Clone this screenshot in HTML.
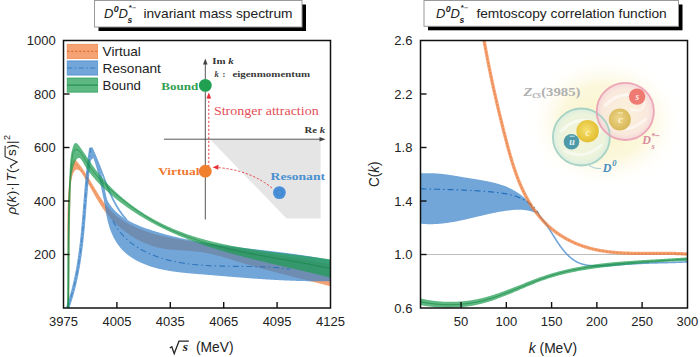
<!DOCTYPE html>
<html><head><meta charset="utf-8"><style>
html,body{margin:0;padding:0;background:#fff;width:700px;height:357px;overflow:hidden}
svg{display:block}
svg{font-family:"Liberation Sans",sans-serif;fill:#222}
.tk{font-size:13px}
.tx{font-size:13.8px}
.tl{font-size:13.5px}
.tt{font-size:13.5px}
.ti{font-size:13px;font-style:italic}
.tis{font-size:8.8px;font-style:italic;font-weight:bold}
.tib{font-size:8.5px;font-style:italic;font-weight:bold}
.tst{font-size:8px;font-weight:bold}
.sb{font-family:"Liberation Serif",serif;font-weight:bold}
.sbi{font-family:"Liberation Serif",serif;font-weight:bold;font-style:italic}
.si{font-family:"Liberation Serif",serif;font-style:italic}
.sr{font-family:"Liberation Serif",serif}
</style></head><body>
<svg width="700" height="357" viewBox="0 0 700 357">
<defs>
<clipPath id="clipL"><rect x="63.5" y="40.5" width="267" height="267.5"/></clipPath>
<clipPath id="clipR"><rect x="420.5" y="40.5" width="267" height="267.5"/></clipPath>
<radialGradient id="glow" cx="0.5" cy="0.5" r="0.5">
 <stop offset="0" stop-color="#FAF3C6" stop-opacity="1"/>
 <stop offset="0.55" stop-color="#FBF6D6" stop-opacity="0.85"/>
 <stop offset="1" stop-color="#FFFFFF" stop-opacity="0"/>
</radialGradient>
<radialGradient id="tealfill" cx="0.5" cy="0.5" r="0.5">
 <stop offset="0" stop-color="#F4F4D8"/>
 <stop offset="0.8" stop-color="#EAF3DC"/>
 <stop offset="1" stop-color="#D8ECE0"/>
</radialGradient>
<radialGradient id="pinkfill" cx="0.5" cy="0.5" r="0.5">
 <stop offset="0" stop-color="#FBF1DC"/>
 <stop offset="0.8" stop-color="#F9E6DE"/>
 <stop offset="1" stop-color="#F4D2D8"/>
</radialGradient>
<radialGradient id="cq" cx="0.45" cy="0.45" r="0.55">
 <stop offset="0" stop-color="#F6E070"/>
 <stop offset="1" stop-color="#E2BE30"/>
</radialGradient>
<radialGradient id="cbq" cx="0.45" cy="0.45" r="0.55">
 <stop offset="0" stop-color="#EED68A"/>
 <stop offset="1" stop-color="#D8B858"/>
</radialGradient>
</defs>
<rect x="98.5" y="4.5" width="207.5" height="26.5" fill="#000"/>
<rect x="94.5" y="0.5" width="207.5" height="26.5" fill="#fff" stroke="#9a9a9a" stroke-width="1"/>
<text x="104" y="17.6" class="ti">D</text>
<text x="113.8" y="12" class="tis">0</text>
<text x="118.4" y="17.6" class="ti">D</text>
<text x="127.6" y="22.5" class="tib">s</text>
<text x="128.8" y="10.2" class="tst">*</text>
<rect x="132.3" y="7.3" width="3.6" height="0.9" fill="#777"/>
<text x="143.4" y="17.6" class="tt" textLength="149.2" lengthAdjust="spacingAndGlyphs">invariant mass spectrum</text>
<rect x="428" y="4.5" width="254.5" height="25.8" fill="#000"/>
<rect x="424" y="0.5" width="254.5" height="25.8" fill="#fff" stroke="#9a9a9a" stroke-width="1"/>
<text x="436" y="17.6" class="ti">D</text>
<text x="445.8" y="12" class="tis">0</text>
<text x="450.4" y="17.6" class="ti">D</text>
<text x="459.6" y="22.5" class="tib">s</text>
<text x="460.8" y="10.2" class="tst">*</text>
<rect x="464.3" y="7.3" width="3.6" height="0.9" fill="#777"/>
<text x="476.4" y="17.6" class="tt" textLength="190.4" lengthAdjust="spacingAndGlyphs">femtoscopy correlation function</text>
<g clip-path="url(#clipL)">
<polygon points="210.3,139.5 320.6,139.5 320.6,218.5 286.5,218.5" fill="#E5E5E5"/>
<path d="M67.33,307.78 L67.37,307.08 L67.41,306.39 L67.45,305.69 L67.49,304.99 L67.53,304.30 L67.56,303.60 L67.60,302.90 L67.63,302.21 L67.66,301.51 L67.69,300.81 L67.72,300.11 L67.75,299.41 L67.78,298.71 L67.80,298.02 L67.83,297.32 L67.85,296.62 L67.87,295.92 L67.89,295.21 L67.91,294.51 L67.93,293.81 L67.95,293.11 L67.97,292.41 L67.98,291.71 L68.00,291.01 L68.01,290.30 L68.02,289.60 L68.04,288.90 L68.05,288.19 L68.06,287.49 L68.07,286.79 L68.07,286.08 L68.08,285.38 L68.09,284.68 L68.09,283.97 L68.10,283.27 L68.10,282.56 L68.11,281.86 L68.11,281.15 L68.11,280.44 L68.11,279.74 L68.11,279.03 L68.11,278.33 L68.11,277.62 L68.11,276.91 L68.11,276.21 L68.11,275.50 L68.10,274.79 L68.10,274.08 L68.09,273.38 L68.09,272.67 L68.08,271.96 L68.08,271.25 L68.07,270.55 L68.06,269.84 L68.06,269.13 L68.05,268.42 L68.04,267.71 L68.03,267.00 L68.02,266.29 L68.01,265.58 L68.00,264.87 L67.99,264.17 L67.98,263.46 L67.97,262.75 L67.96,262.04 L67.95,261.33 L67.94,260.62 L67.93,259.91 L67.91,259.20 L67.90,258.49 L67.89,257.78 L67.88,257.07 L67.86,256.36 L67.85,255.65 L67.84,254.93 L67.82,254.22 L67.81,253.51 L67.80,252.80 L67.79,252.09 L67.77,251.38 L67.76,250.67 L67.75,249.96 L67.73,249.25 L67.72,248.54 L67.71,247.83 L67.69,247.12 L67.68,246.40 L67.67,245.69 L67.66,244.98 L67.64,244.27 L67.63,243.56 L67.62,242.85 L67.61,242.14 L67.60,241.43 L67.59,240.72 L67.58,240.01 L67.56,239.29 L67.55,238.58 L67.54,237.87 L67.53,237.16 L67.53,236.45 L67.52,235.74 L67.51,235.03 L67.50,234.32 L67.49,233.61 L67.48,232.90 L67.48,232.19 L67.47,231.48 L67.47,230.77 L67.46,230.06 L67.46,229.35 L67.45,228.64 L67.45,227.93 L67.44,227.22 L67.44,226.51 L67.44,225.80 L67.44,225.09 L67.44,224.38 L67.44,223.67 L67.44,222.96 L67.44,222.25 L67.44,221.54 L67.45,220.83 L67.45,220.12 L67.45,219.41 L67.46,218.70 L67.47,217.99 L67.47,217.29 L67.48,216.58 L67.49,215.87 L67.50,215.16 L67.51,214.45 L67.52,213.75 L67.53,213.04 L67.55,212.33 L67.56,211.63 L67.58,210.92 L67.59,210.21 L67.61,209.51 L67.63,208.80 L67.65,208.09 L67.67,207.39 L67.69,206.68 L67.71,205.98 L67.74,205.27 L67.76,204.56 L67.79,203.86 L67.81,203.16 L67.84,202.45 L67.87,201.75 L67.90,201.04 L67.94,200.34 L67.97,199.64 L68.00,198.93 L68.04,198.23 L68.08,197.53 L68.12,196.82 L68.16,196.12 L68.20,195.42 L68.24,194.72 L68.29,194.02 L68.33,193.32 L68.38,192.61 L68.43,191.91 L68.48,191.21 L68.53,190.51 L68.58,189.81 L68.64,189.11 L68.69,188.42 L68.75,187.72 L68.81,187.02 L68.87,186.32 L68.94,185.62 L69.00,184.93 L69.07,184.23 L69.13,183.53 L69.20,182.83 L69.28,182.14 L69.35,181.44 L69.42,180.75 L69.50,180.05 L69.58,179.36 L69.66,178.66 L69.74,177.97 L69.82,177.28 L69.91,176.58 L70.00,175.89 L70.09,175.20 L70.18,174.50 L70.27,173.81 L70.36,173.12 L70.46,172.43 L70.56,171.74 L70.66,171.05 L70.77,170.36 L70.88,169.68 L71.00,168.99 L71.12,168.31 L71.25,167.63 L71.40,166.96 L71.55,166.29 L71.72,165.63 L71.90,164.98 L72.10,164.33 L72.31,163.69 L72.54,163.06 L72.79,162.43 L73.06,161.82 L73.36,161.22 L73.67,160.62 L74.01,160.04 L74.37,159.47 L74.76,158.92 L75.44,159.66 L75.90,160.18 L76.37,160.71 L76.82,161.24 L77.28,161.77 L77.73,162.31 L78.17,162.85 L78.61,163.39 L79.05,163.94 L79.48,164.49 L79.91,165.04 L80.33,165.60 L80.76,166.16 L81.17,166.72 L81.59,167.28 L82.00,167.85 L82.40,168.42 L82.81,169.00 L83.21,169.57 L83.61,170.15 L84.00,170.73 L84.40,171.31 L84.79,171.90 L85.17,172.48 L85.56,173.07 L85.94,173.66 L86.33,174.25 L86.70,174.85 L87.08,175.44 L87.46,176.04 L87.83,176.64 L88.20,177.24 L88.57,177.84 L88.94,178.44 L89.31,179.04 L89.68,179.65 L90.04,180.25 L90.41,180.86 L90.77,181.47 L91.14,182.07 L91.50,182.68 L91.86,183.29 L92.23,183.90 L92.59,184.51 L92.95,185.12 L93.31,185.73 L93.67,186.34 L94.04,186.95 L94.40,187.56 L94.76,188.17 L95.12,188.78 L95.49,189.39 L95.85,190.00 L96.22,190.61 L96.59,191.22 L96.95,191.83 L97.32,192.43 L97.69,193.04 L98.06,193.64 L98.44,194.25 L98.81,194.85 L99.19,195.45 L99.57,196.05 L99.95,196.64 L100.33,197.24 L100.72,197.83 L101.11,198.42 L101.50,199.01 L101.89,199.60 L102.29,200.18 L102.69,200.76 L103.09,201.33 L103.50,201.91 L103.91,202.47 L104.32,203.04 L104.74,203.60 L105.16,204.16 L105.59,204.71 L106.02,205.26 L106.45,205.81 L106.89,206.35 L107.33,206.88 L107.78,207.41 L108.23,207.94 L108.69,208.46 L109.15,208.97 L109.62,209.48 L110.09,209.98 L110.57,210.48 L111.05,210.97 L111.54,211.46 L112.04,211.94 L112.54,212.41 L113.04,212.87 L113.55,213.34 L114.07,213.79 L114.59,214.24 L115.11,214.68 L115.64,215.12 L116.17,215.56 L116.71,215.98 L117.25,216.41 L117.80,216.82 L118.34,217.24 L118.89,217.64 L119.45,218.05 L120.00,218.44 L120.56,218.84 L121.13,219.22 L121.69,219.61 L122.26,219.99 L122.83,220.36 L123.41,220.73 L123.99,221.09 L124.57,221.45 L125.15,221.81 L125.74,222.16 L126.32,222.50 L126.92,222.85 L127.51,223.18 L128.11,223.52 L128.71,223.85 L129.31,224.17 L129.91,224.49 L130.52,224.81 L131.13,225.12 L131.74,225.43 L132.36,225.73 L132.98,226.03 L133.60,226.33 L134.22,226.62 L134.84,226.91 L135.47,227.19 L136.10,227.48 L136.73,227.75 L137.36,228.03 L138.00,228.30 L138.64,228.56 L139.28,228.82 L139.92,229.08 L140.56,229.34 L141.21,229.59 L141.86,229.84 L142.51,230.08 L143.16,230.33 L143.82,230.56 L144.47,230.80 L145.13,231.03 L145.79,231.26 L146.45,231.49 L147.11,231.71 L147.78,231.93 L148.44,232.15 L149.11,232.36 L149.78,232.57 L150.45,232.78 L151.13,232.98 L151.80,233.18 L152.48,233.38 L153.16,233.58 L153.84,233.77 L154.52,233.97 L155.20,234.16 L155.88,234.34 L156.57,234.53 L157.25,234.71 L157.94,234.89 L158.63,235.06 L159.32,235.24 L160.01,235.41 L160.70,235.58 L161.39,235.74 L162.09,235.91 L162.78,236.07 L163.48,236.23 L164.18,236.39 L164.88,236.55 L165.58,236.70 L166.28,236.86 L166.98,237.01 L167.68,237.16 L168.38,237.30 L169.08,237.45 L169.79,237.59 L170.49,237.73 L171.20,237.87 L171.91,238.01 L172.61,238.15 L173.32,238.28 L174.03,238.42 L174.74,238.55 L175.45,238.68 L176.16,238.81 L176.87,238.94 L177.58,239.07 L178.29,239.19 L179.00,239.32 L179.71,239.44 L180.42,239.56 L181.14,239.69 L181.85,239.81 L182.56,239.93 L183.28,240.04 L183.99,240.16 L184.70,240.28 L185.42,240.39 L186.13,240.51 L186.84,240.62 L187.56,240.74 L188.27,240.85 L188.98,240.96 L189.70,241.07 L190.41,241.18 L191.12,241.29 L191.83,241.40 L192.55,241.51 L193.26,241.62 L193.97,241.73 L194.68,241.84 L195.39,241.95 L196.11,242.06 L196.82,242.16 L197.53,242.27 L198.24,242.38 L198.95,242.49 L199.65,242.60 L200.36,242.70 L201.07,242.81 L201.78,242.92 L202.48,243.03 L203.19,243.13 L203.90,243.24 L204.60,243.35 L205.30,243.46 L206.01,243.57 L206.71,243.67 L207.41,243.78 L208.12,243.89 L208.82,244.00 L209.52,244.11 L210.22,244.22 L210.92,244.32 L211.62,244.43 L212.32,244.54 L213.02,244.65 L213.72,244.76 L214.41,244.87 L215.11,244.98 L215.81,245.09 L216.50,245.19 L217.20,245.30 L217.90,245.41 L218.59,245.52 L219.29,245.63 L219.98,245.74 L220.68,245.85 L221.37,245.96 L222.06,246.07 L222.75,246.18 L223.45,246.29 L224.14,246.40 L224.83,246.51 L225.52,246.62 L226.21,246.73 L226.90,246.84 L227.60,246.95 L228.29,247.06 L228.98,247.17 L229.66,247.28 L230.35,247.39 L231.04,247.50 L231.73,247.61 L232.42,247.72 L233.11,247.83 L233.80,247.94 L234.48,248.05 L235.17,248.16 L235.86,248.27 L236.54,248.39 L237.23,248.50 L237.92,248.61 L238.60,248.72 L239.29,248.83 L239.97,248.94 L240.66,249.05 L241.35,249.16 L242.03,249.27 L242.72,249.39 L243.40,249.50 L244.09,249.61 L244.77,249.72 L245.45,249.83 L246.14,249.94 L246.82,250.06 L247.51,250.17 L248.19,250.28 L248.87,250.39 L249.56,250.50 L250.24,250.62 L250.92,250.73 L251.61,250.84 L252.29,250.95 L252.97,251.06 L253.66,251.18 L254.34,251.29 L255.02,251.40 L255.70,251.51 L256.39,251.63 L257.07,251.74 L257.75,251.85 L258.44,251.96 L259.12,252.08 L259.80,252.19 L260.48,252.30 L261.17,252.42 L261.85,252.53 L262.53,252.64 L263.21,252.76 L263.90,252.87 L264.58,252.98 L265.26,253.09 L265.95,253.21 L266.63,253.32 L267.31,253.43 L267.99,253.55 L268.68,253.66 L269.36,253.78 L270.04,253.89 L270.73,254.00 L271.41,254.12 L272.09,254.23 L272.78,254.34 L273.46,254.46 L274.15,254.57 L274.83,254.69 L275.51,254.80 L276.20,254.91 L276.88,255.03 L277.57,255.14 L278.25,255.26 L278.94,255.37 L279.62,255.48 L280.31,255.60 L281.00,255.71 L281.68,255.83 L282.37,255.94 L283.05,256.06 L283.74,256.17 L284.43,256.29 L285.11,256.40 L285.80,256.52 L286.49,256.63 L287.18,256.75 L287.86,256.86 L288.55,256.98 L289.24,257.09 L289.93,257.21 L290.62,257.32 L291.31,257.44 L292.00,257.55 L292.69,257.67 L293.38,257.78 L294.07,257.90 L294.76,258.01 L295.45,258.13 L296.14,258.24 L296.84,258.36 L297.53,258.47 L298.22,258.59 L298.92,258.70 L299.61,258.82 L300.30,258.94 L301.00,259.05 L301.69,259.17 L302.39,259.28 L303.08,259.40 L303.78,259.51 L304.48,259.63 L305.17,259.75 L305.87,259.86 L306.57,259.98 L307.27,260.10 L307.97,260.21 L308.66,260.33 L309.36,260.44 L310.06,260.56 L310.77,260.68 L311.47,260.79 L312.17,260.91 L312.87,261.03 L313.57,261.14 L314.28,261.26 L314.98,261.38 L315.68,261.49 L316.39,261.61 L317.09,261.73 L317.80,261.84 L318.51,261.96 L319.21,262.08 L319.92,262.19 L320.63,262.31 L321.34,262.43 L322.05,262.54 L322.76,262.66 L323.47,262.78 L324.18,262.89 L324.89,263.01 L325.60,263.13 L326.32,263.25 L327.03,263.36 L327.75,263.48 L328.46,263.60 L329.18,263.71 L329.89,263.83 L330.61,263.95 L330.50,286.29 L329.82,286.11 L329.15,285.93 L328.47,285.76 L327.79,285.58 L327.11,285.40 L326.43,285.23 L325.75,285.05 L325.07,284.88 L324.40,284.71 L323.72,284.53 L323.04,284.36 L322.36,284.18 L321.68,284.01 L321.00,283.84 L320.32,283.67 L319.64,283.49 L318.96,283.32 L318.28,283.15 L317.60,282.98 L316.92,282.80 L316.24,282.63 L315.56,282.46 L314.88,282.29 L314.20,282.12 L313.52,281.95 L312.84,281.78 L312.16,281.61 L311.48,281.44 L310.80,281.27 L310.12,281.10 L309.44,280.93 L308.76,280.76 L308.08,280.59 L307.40,280.42 L306.72,280.25 L306.04,280.08 L305.36,279.91 L304.68,279.74 L304.00,279.57 L303.32,279.40 L302.64,279.23 L301.96,279.06 L301.28,278.89 L300.60,278.72 L299.92,278.55 L299.24,278.38 L298.56,278.21 L297.88,278.04 L297.20,277.87 L296.52,277.70 L295.84,277.53 L295.16,277.36 L294.48,277.19 L293.80,277.01 L293.12,276.84 L292.44,276.67 L291.76,276.50 L291.08,276.33 L290.40,276.16 L289.72,275.99 L289.04,275.82 L288.36,275.64 L287.68,275.47 L287.00,275.30 L286.32,275.13 L285.64,274.96 L284.96,274.78 L284.28,274.61 L283.60,274.44 L282.92,274.26 L282.24,274.09 L281.56,273.91 L280.88,273.74 L280.20,273.56 L279.52,273.39 L278.84,273.21 L278.16,273.04 L277.48,272.86 L276.81,272.69 L276.13,272.51 L275.45,272.33 L274.77,272.15 L274.09,271.98 L273.41,271.80 L272.73,271.62 L272.06,271.44 L271.38,271.26 L270.70,271.08 L270.02,270.90 L269.35,270.72 L268.67,270.54 L267.99,270.36 L267.31,270.18 L266.64,269.99 L265.96,269.81 L265.28,269.63 L264.60,269.44 L263.93,269.26 L263.25,269.07 L262.58,268.89 L261.90,268.70 L261.22,268.52 L260.55,268.33 L259.87,268.14 L259.20,267.95 L258.52,267.76 L257.84,267.57 L257.17,267.38 L256.49,267.19 L255.82,267.00 L255.14,266.81 L254.47,266.62 L253.80,266.42 L253.12,266.23 L252.45,266.04 L251.77,265.84 L251.10,265.64 L250.43,265.45 L249.75,265.25 L249.08,265.05 L248.41,264.85 L247.73,264.66 L247.06,264.45 L246.39,264.25 L245.72,264.05 L245.05,263.85 L244.37,263.65 L243.70,263.44 L243.03,263.24 L242.36,263.03 L241.69,262.83 L241.02,262.62 L240.35,262.41 L239.68,262.20 L239.01,262.00 L238.34,261.79 L237.67,261.58 L237.00,261.37 L236.33,261.16 L235.66,260.95 L234.99,260.74 L234.32,260.53 L233.65,260.32 L232.98,260.11 L232.31,259.90 L231.64,259.69 L230.97,259.49 L230.30,259.28 L229.63,259.07 L228.96,258.87 L228.29,258.66 L227.62,258.46 L226.95,258.25 L226.27,258.05 L225.60,257.85 L224.93,257.65 L224.26,257.45 L223.59,257.26 L222.92,257.06 L222.24,256.87 L221.57,256.68 L220.90,256.49 L220.22,256.30 L219.55,256.11 L218.87,255.93 L218.20,255.74 L217.52,255.56 L216.85,255.39 L216.17,255.21 L215.49,255.04 L214.81,254.87 L214.14,254.70 L213.46,254.53 L212.78,254.37 L212.10,254.21 L211.42,254.05 L210.74,253.90 L210.05,253.75 L209.37,253.60 L208.69,253.46 L208.00,253.32 L207.32,253.18 L206.63,253.05 L205.95,252.91 L205.26,252.79 L204.57,252.66 L203.88,252.55 L203.19,252.43 L202.50,252.32 L201.81,252.21 L201.12,252.11 L200.42,252.01 L199.73,251.91 L199.03,251.82 L198.34,251.74 L197.64,251.65 L196.94,251.58 L196.24,251.50 L195.55,251.43 L194.85,251.36 L194.14,251.29 L193.44,251.23 L192.74,251.17 L192.04,251.11 L191.34,251.06 L190.63,251.01 L189.93,250.95 L189.22,250.90 L188.52,250.86 L187.81,250.81 L187.11,250.76 L186.40,250.72 L185.70,250.67 L184.99,250.63 L184.29,250.59 L183.58,250.55 L182.88,250.50 L182.17,250.46 L181.46,250.42 L180.76,250.37 L180.05,250.33 L179.35,250.29 L178.64,250.24 L177.94,250.19 L177.23,250.14 L176.53,250.09 L175.83,250.04 L175.12,249.99 L174.42,249.93 L173.72,249.87 L173.02,249.81 L172.32,249.75 L171.61,249.68 L170.91,249.61 L170.22,249.54 L169.52,249.47 L168.82,249.39 L168.12,249.30 L167.43,249.22 L166.73,249.12 L166.04,249.03 L165.35,248.93 L164.65,248.82 L163.96,248.72 L163.27,248.60 L162.59,248.48 L161.90,248.36 L161.21,248.22 L160.53,248.09 L159.85,247.95 L159.16,247.80 L158.48,247.64 L157.80,247.48 L157.13,247.31 L156.45,247.14 L155.78,246.96 L155.10,246.78 L154.43,246.59 L153.76,246.39 L153.09,246.19 L152.43,245.98 L151.76,245.76 L151.10,245.54 L150.44,245.32 L149.78,245.08 L149.12,244.85 L148.46,244.60 L147.81,244.36 L147.16,244.10 L146.51,243.84 L145.86,243.58 L145.21,243.31 L144.57,243.03 L143.93,242.75 L143.29,242.47 L142.65,242.18 L142.01,241.88 L141.38,241.58 L140.75,241.28 L140.12,240.96 L139.49,240.65 L138.87,240.33 L138.25,240.00 L137.63,239.67 L137.01,239.34 L136.39,239.00 L135.78,238.65 L135.17,238.30 L134.56,237.95 L133.96,237.59 L133.35,237.22 L132.75,236.86 L132.16,236.48 L131.56,236.11 L130.97,235.73 L130.38,235.34 L129.79,234.95 L129.21,234.56 L128.63,234.16 L128.05,233.76 L127.47,233.35 L126.90,232.94 L126.33,232.52 L125.76,232.11 L125.20,231.68 L124.64,231.26 L124.08,230.83 L123.53,230.39 L122.98,229.95 L122.43,229.51 L121.88,229.07 L121.34,228.62 L120.80,228.17 L120.26,227.71 L119.73,227.25 L119.20,226.79 L118.68,226.32 L118.15,225.85 L117.63,225.38 L117.12,224.90 L116.61,224.42 L116.10,223.94 L115.59,223.45 L115.09,222.96 L114.59,222.47 L114.10,221.97 L113.60,221.47 L113.12,220.97 L112.63,220.46 L112.15,219.96 L111.68,219.45 L111.20,218.93 L110.73,218.42 L110.27,217.90 L109.81,217.38 L109.35,216.85 L108.90,216.32 L108.45,215.80 L108.00,215.26 L107.56,214.73 L107.12,214.19 L106.69,213.65 L106.26,213.11 L105.83,212.57 L105.41,212.02 L105.00,211.47 L104.58,210.92 L104.17,210.37 L103.77,209.81 L103.37,209.26 L102.97,208.70 L102.58,208.14 L102.19,207.57 L101.81,207.01 L101.43,206.44 L101.05,205.87 L100.67,205.30 L100.30,204.73 L99.93,204.15 L99.57,203.57 L99.20,202.99 L98.84,202.41 L98.48,201.83 L98.13,201.24 L97.77,200.65 L97.42,200.06 L97.07,199.47 L96.71,198.87 L96.36,198.27 L96.02,197.68 L95.67,197.07 L95.32,196.47 L94.97,195.86 L94.63,195.26 L94.28,194.65 L93.93,194.03 L93.58,193.42 L93.24,192.80 L92.89,192.18 L92.54,191.56 L92.19,190.94 L91.84,190.31 L91.49,189.68 L91.14,189.05 L90.78,188.42 L90.42,187.78 L90.07,187.14 L89.71,186.50 L89.34,185.86 L88.98,185.22 L88.61,184.57 L88.24,183.92 L87.87,183.27 L87.49,182.62 L87.11,181.96 L86.73,181.30 L86.34,180.64 L85.95,179.98 L85.55,179.31 L85.16,178.64 L84.75,177.97 L84.35,177.30 L83.93,176.62 L83.52,175.95 L83.10,175.29 L82.68,174.64 L82.26,174.01 L81.83,173.41 L81.41,172.83 L80.99,172.28 L80.56,171.78 L80.14,171.31 L79.72,170.90 L79.31,170.54 L78.90,170.23 L78.49,169.97 L78.09,169.77 L77.69,169.63 L77.30,169.55 L76.92,169.52 L76.55,169.55 L76.19,169.65 L75.83,169.80 L75.49,170.02 L75.16,170.30 L74.84,170.64 L74.54,171.03 L74.24,171.47 L73.96,171.95 L73.70,172.46 L73.44,172.99 L73.20,173.55 L72.98,174.12 L72.77,174.71 L72.57,175.31 L72.38,175.92 L72.21,176.55 L72.04,177.19 L71.89,177.84 L71.75,178.50 L71.62,179.17 L71.50,179.85 L71.39,180.54 L71.29,181.24 L71.19,181.94 L71.11,182.66 L71.03,183.38 L70.96,184.10 L70.90,184.83 L70.84,185.57 L70.78,186.31 L70.74,187.06 L70.70,187.81 L70.66,188.57 L70.62,189.32 L70.59,190.08 L70.56,190.84 L70.54,191.60 L70.52,192.36 L70.50,193.12 L70.47,193.88 L70.46,194.64 L70.44,195.39 L70.42,196.15 L70.40,196.90 L70.38,197.65 L70.36,198.40 L70.34,199.15 L70.32,199.89 L70.30,200.64 L70.29,201.38 L70.27,202.12 L70.25,202.86 L70.23,203.60 L70.22,204.33 L70.20,205.06 L70.18,205.80 L70.16,206.53 L70.15,207.25 L70.13,207.98 L70.11,208.71 L70.10,209.43 L70.08,210.15 L70.07,210.88 L70.05,211.60 L70.03,212.31 L70.02,213.03 L70.00,213.75 L69.99,214.46 L69.97,215.17 L69.96,215.89 L69.94,216.60 L69.93,217.31 L69.91,218.01 L69.90,218.72 L69.89,219.43 L69.87,220.13 L69.86,220.84 L69.84,221.54 L69.83,222.24 L69.82,222.94 L69.80,223.64 L69.79,224.34 L69.78,225.03 L69.76,225.73 L69.75,226.43 L69.74,227.12 L69.73,227.81 L69.71,228.51 L69.70,229.20 L69.69,229.89 L69.68,230.58 L69.67,231.27 L69.65,231.96 L69.64,232.65 L69.63,233.34 L69.62,234.02 L69.61,234.71 L69.60,235.39 L69.59,236.08 L69.58,236.76 L69.57,237.45 L69.55,238.13 L69.54,238.81 L69.53,239.50 L69.52,240.18 L69.51,240.86 L69.50,241.54 L69.49,242.22 L69.48,242.90 L69.47,243.58 L69.46,244.26 L69.46,244.94 L69.45,245.62 L69.44,246.30 L69.43,246.98 L69.42,247.65 L69.41,248.33 L69.40,249.01 L69.39,249.69 L69.38,250.37 L69.38,251.04 L69.37,251.72 L69.36,252.40 L69.35,253.08 L69.34,253.76 L69.34,254.43 L69.33,255.11 L69.32,255.79 L69.31,256.47 L69.31,257.15 L69.30,257.82 L69.29,258.50 L69.28,259.18 L69.28,259.86 L69.27,260.54 L69.26,261.22 L69.26,261.90 L69.25,262.58 L69.24,263.26 L69.24,263.94 L69.23,264.62 L69.23,265.30 L69.22,265.98 L69.21,266.67 L69.21,267.35 L69.20,268.03 L69.20,268.72 L69.19,269.40 L69.19,270.09 L69.18,270.77 L69.17,271.46 L69.17,272.15 L69.16,272.83 L69.16,273.52 L69.15,274.21 L69.15,274.90 L69.14,275.59 L69.14,276.28 L69.14,276.97 L69.13,277.67 L69.13,278.36 L69.12,279.06 L69.12,279.75 L69.11,280.45 L69.11,281.15 L69.10,281.84 L69.10,282.54 L69.10,283.24 L69.09,283.95 L69.09,284.65 L69.09,285.35 L69.08,286.06 L69.08,286.76 L69.07,287.47 L69.07,288.18 L69.07,288.89 L69.06,289.60 L69.06,290.31 L69.06,291.03 L69.06,291.74 L69.05,292.46 L69.05,293.17 L69.05,293.89 L69.04,294.61 L69.04,295.33 L69.04,296.06 L69.04,296.78 L69.03,297.51 L69.03,298.23 L69.03,298.96 L69.03,299.69 L69.02,300.43 L69.02,301.16 L69.02,301.90 L69.02,302.63 L69.01,303.37 L69.01,304.11 L69.01,304.85 L69.01,305.60 L69.01,306.34 L69.01,307.09 L69.00,307.84 Z" fill="#F07832" fill-opacity="0.68"/>
<path d="M75.97,164.04 L76.42,164.59 L76.87,165.13 L77.32,165.68 L77.77,166.23 L78.21,166.79 L78.65,167.34 L79.08,167.90 L79.51,168.46 L79.94,169.03 L80.37,169.59 L80.80,170.16 L81.22,170.73 L81.64,171.30 L82.05,171.88 L82.47,172.46 L82.88,173.03 L83.29,173.61 L83.69,174.20 L84.10,174.78 L84.50,175.37 L84.90,175.95 L85.30,176.54 L85.70,177.13 L86.10,177.72 L86.49,178.31 L86.88,178.91 L87.28,179.50 L87.67,180.10 L88.05,180.70 L88.44,181.29 L88.83,181.89 L89.21,182.49 L89.60,183.09 L89.98,183.69 L90.36,184.30 L90.74,184.90 L91.13,185.50 L91.51,186.10 L91.89,186.71 L92.27,187.31 L92.64,187.92 L93.02,188.52 L93.40,189.13 L93.78,189.73 L94.16,190.34 L94.54,190.94 L94.92,191.54 L95.30,192.15 L95.67,192.75 L96.05,193.36 L96.43,193.96 L96.81,194.56 L97.20,195.16 L97.58,195.77 L97.96,196.37 L98.34,196.97 L98.73,197.57 L99.11,198.16 L99.50,198.76 L99.89,199.36 L100.27,199.95 L100.66,200.55 L101.06,201.14 L101.45,201.73 L101.84,202.32 L102.24,202.91 L102.64,203.50 L103.04,204.08 L103.44,204.67 L103.84,205.25 L104.25,205.83 L104.65,206.41 L105.06,206.99 L105.47,207.56 L105.89,208.14 L106.30,208.71 L106.72,209.28 L107.15,209.84 L107.57,210.41 L108.00,210.97 L108.43,211.53 L108.86,212.09 L109.29,212.64 L109.73,213.19 L110.17,213.74 L110.62,214.29 L111.07,214.83 L111.52,215.37 L111.97,215.91 L112.43,216.45 L112.89,216.98 L113.36,217.51 L113.83,218.03 L114.30,218.56 L114.78,219.08 L115.26,219.59 L115.75,220.10 L116.24,220.61 L116.73,221.12 L117.23,221.62 L117.73,222.12 L118.24,222.61 L118.75,223.10 L119.26,223.59 L119.78,224.07 L120.31,224.55 L120.84,225.02 L121.37,225.49 L121.91,225.96 L122.46,226.42 L123.01,226.87 L123.57,227.33 L124.13,227.77 L124.69,228.22 L125.27,228.65 L125.84,229.09 L126.43,229.52 L127.01,229.94 L127.61,230.36 L128.21,230.77 L128.82,231.18 L129.43,231.59 L130.05,231.99" fill="none" stroke="#D85A10" stroke-width="0.7" stroke-dasharray="2,2" opacity="0.5"/>
<g opacity="0.72">
<path d="M104.08,192.64 L104.32,193.37 L104.57,194.10 L104.84,194.81 L105.11,195.52 L105.39,196.21 L105.68,196.90 L105.97,197.58 L106.28,198.24 L106.60,198.90 L106.92,199.55 L107.25,200.19 L107.60,200.82 L107.95,201.45 L108.30,202.06 L108.67,202.67 L109.04,203.26 L109.43,203.85 L109.82,204.43 L110.21,205.00 L110.62,205.57 L111.03,206.12 L111.45,206.67 L111.88,207.21 L112.31,207.74 L112.76,208.27 L113.20,208.78 L113.66,209.29 L114.12,209.79 L114.59,210.29 L115.07,210.78 L115.55,211.26 L116.03,211.73 L116.53,212.19 L117.03,212.65 L117.54,213.10 L118.05,213.55 L118.57,213.99 L119.09,214.42 L119.62,214.85 L120.15,215.27 L120.69,215.68 L121.24,216.09 L121.79,216.49 L122.34,216.88 L122.90,217.27 L123.47,217.66 L124.04,218.03 L124.61,218.41 L125.19,218.77 L125.78,219.13 L126.37,219.49 L126.96,219.84 L127.55,220.19 L128.15,220.53 L128.76,220.86 L129.37,221.19 L129.98,221.52 L130.59,221.84 L131.21,222.16 L131.83,222.47 L132.46,222.78 L133.09,223.08 L133.72,223.38 L134.35,223.68 L134.99,223.97 L135.63,224.26 L136.27,224.54 L136.92,224.82 L137.56,225.10 L138.21,225.37 L138.86,225.64 L139.52,225.90 L140.17,226.17 L140.83,226.43 L141.49,226.68 L142.15,226.94 L142.82,227.19 L143.48,227.43 L144.15,227.68 L144.81,227.92 L145.48,228.16 L146.15,228.40 L146.82,228.63 L147.49,228.87 L148.16,229.10 L148.83,229.32 L149.51,229.55 L150.18,229.78 L150.85,230.00 L151.52,230.22 L152.20,230.44 L152.87,230.65 L153.55,230.87 L154.22,231.08 L154.90,231.30 L155.57,231.51 L156.25,231.71 L156.93,231.92 L157.60,232.12 L158.28,232.33 L158.96,232.53 L159.64,232.73 L160.31,232.93 L160.99,233.12 L161.67,233.32 L162.35,233.51 L163.03,233.70 L163.71,233.89 L164.39,234.08 L165.07,234.26 L165.75,234.45 L166.43,234.63 L167.11,234.81 L167.79,234.99 L168.48,235.17 L169.16,235.35 L169.84,235.52 L170.52,235.70 L171.21,235.87 L171.89,236.04 L172.57,236.21 L173.26,236.38 L173.94,236.55 L174.63,236.71 L175.31,236.87 L175.99,237.04 L176.68,237.20 L177.37,237.36 L178.05,237.52 L178.74,237.67 L179.42,237.83 L180.11,237.98 L180.80,238.13 L181.48,238.29 L182.17,238.44 L182.86,238.58 L183.55,238.73 L184.24,238.88 L184.92,239.02 L185.61,239.17 L186.30,239.31 L186.99,239.45 L187.68,239.59 L188.37,239.73 L189.06,239.87 L189.75,240.00 L190.44,240.14 L191.13,240.27 L191.82,240.41 L192.51,240.54 L193.20,240.67 L193.89,240.80 L194.59,240.93 L195.28,241.05 L195.97,241.18 L196.66,241.31 L197.35,241.43 L198.05,241.55 L198.74,241.67 L199.43,241.80 L200.12,241.92 L200.82,242.04 L201.51,242.15 L202.21,242.27 L202.90,242.39 L203.59,242.50 L204.29,242.62 L204.98,242.73 L205.68,242.84 L206.37,242.96 L207.07,243.07 L207.76,243.18 L208.46,243.29 L209.15,243.39 L209.85,243.50 L210.54,243.61 L211.24,243.71 L211.93,243.82 L212.63,243.92 L213.33,244.03 L214.02,244.13 L214.72,244.23 L215.42,244.33 L216.11,244.43 L216.81,244.53 L217.51,244.63 L218.21,244.73 L218.90,244.83 L219.60,244.93 L220.30,245.02 L221.00,245.12 L221.69,245.22 L222.39,245.31 L223.09,245.40 L223.79,245.50 L224.49,245.59 L225.18,245.68 L225.88,245.78 L226.58,245.87 L227.28,245.96 L227.98,246.05 L228.68,246.14 L229.38,246.23 L230.08,246.32 L230.77,246.40 L231.47,246.49 L232.17,246.58 L232.87,246.67 L233.57,246.75 L234.27,246.84 L234.97,246.92 L235.67,247.01 L236.37,247.09 L237.07,247.18 L237.77,247.26 L238.47,247.35 L239.17,247.43 L239.87,247.51 L240.57,247.60 L241.27,247.68 L241.97,247.76 L242.67,247.85 L243.37,247.93 L244.07,248.01 L244.77,248.09 L245.47,248.17 L246.17,248.25 L246.87,248.33 L247.57,248.41 L248.27,248.49 L248.97,248.58 L249.67,248.66 L250.38,248.74 L251.08,248.82 L251.78,248.90 L252.48,248.98 L253.18,249.05 L253.88,249.13 L254.58,249.21 L255.28,249.29 L255.98,249.37 L256.68,249.45 L257.38,249.53 L258.08,249.61 L258.78,249.69 L259.48,249.77 L260.18,249.85 L260.88,249.93 L261.58,250.01 L262.28,250.09 L262.99,250.17 L263.69,250.25 L264.39,250.33 L265.09,250.41 L265.79,250.49 L266.49,250.57 L267.19,250.65 L267.89,250.73 L268.59,250.81 L269.29,250.89 L269.99,250.97 L270.69,251.06 L271.39,251.14 L272.09,251.22 L272.79,251.30 L273.49,251.38 L274.19,251.47 L274.89,251.55 L275.59,251.63 L276.29,251.72 L276.99,251.80 L277.69,251.88 L278.38,251.97 L279.08,252.05 L279.78,252.14 L280.48,252.23 L281.18,252.31 L281.88,252.40 L282.58,252.49 L283.28,252.57 L283.98,252.66 L284.67,252.75 L285.37,252.84 L286.07,252.93 L286.77,253.02 L287.47,253.11 L288.17,253.20 L288.86,253.29 L289.56,253.38 L290.26,253.47 L290.96,253.57 L291.65,253.66 L292.35,253.76 L293.05,253.85 L293.74,253.95 L294.44,254.04 L295.14,254.14 L295.83,254.24 L296.53,254.33 L297.23,254.43 L297.92,254.53 L298.62,254.63 L299.32,254.73 L300.01,254.83 L300.71,254.94 L301.40,255.04 L302.10,255.14 L302.79,255.25 L303.49,255.35 L304.18,255.46 L304.88,255.56 L305.57,255.67 L306.26,255.78 L306.96,255.89 L307.65,256.00 L308.35,256.11 L309.04,256.22 L309.73,256.34 L310.43,256.45 L311.12,256.56 L311.81,256.68 L312.50,256.80 L313.20,256.91 L313.89,257.03 L314.58,257.15 L315.27,257.27 L315.96,257.39 L316.66,257.52 L317.35,257.64 L318.04,257.76 L318.73,257.89 L319.42,258.02 L320.11,258.14 L320.80,258.27 L321.49,258.40 L322.18,258.53 L322.87,258.66 L323.56,258.80 L324.25,258.93 L324.93,259.07 L325.62,259.20 L326.31,259.34 L327.00,259.48 L327.69,259.62 L328.37,259.76 L329.06,259.90 L329.75,260.05 L330.43,260.19 L330.58,281.21 L329.86,281.22 L329.13,281.23 L328.41,281.24 L327.69,281.24 L326.98,281.25 L326.26,281.26 L325.54,281.26 L324.82,281.27 L324.10,281.27 L323.39,281.28 L322.67,281.28 L321.96,281.28 L321.24,281.28 L320.53,281.28 L319.81,281.28 L319.10,281.28 L318.39,281.28 L317.68,281.27 L316.96,281.27 L316.25,281.27 L315.54,281.26 L314.83,281.26 L314.12,281.25 L313.41,281.24 L312.70,281.23 L311.99,281.23 L311.29,281.22 L310.58,281.21 L309.87,281.20 L309.16,281.19 L308.46,281.17 L307.75,281.16 L307.05,281.15 L306.34,281.13 L305.64,281.12 L304.93,281.11 L304.23,281.09 L303.52,281.07 L302.82,281.06 L302.12,281.04 L301.42,281.02 L300.71,281.00 L300.01,280.98 L299.31,280.96 L298.61,280.94 L297.91,280.92 L297.21,280.90 L296.51,280.88 L295.81,280.85 L295.11,280.83 L294.41,280.81 L293.71,280.78 L293.01,280.76 L292.31,280.73 L291.61,280.70 L290.91,280.68 L290.22,280.65 L289.52,280.62 L288.82,280.59 L288.13,280.56 L287.43,280.53 L286.73,280.50 L286.04,280.47 L285.34,280.44 L284.64,280.41 L283.95,280.38 L283.25,280.34 L282.56,280.31 L281.86,280.28 L281.17,280.24 L280.47,280.21 L279.78,280.17 L279.08,280.14 L278.39,280.10 L277.70,280.07 L277.00,280.03 L276.31,279.99 L275.62,279.95 L274.92,279.91 L274.23,279.88 L273.54,279.84 L272.84,279.80 L272.15,279.76 L271.46,279.72 L270.77,279.68 L270.07,279.63 L269.38,279.59 L268.69,279.55 L268.00,279.51 L267.30,279.46 L266.61,279.42 L265.92,279.38 L265.23,279.33 L264.54,279.29 L263.84,279.24 L263.15,279.20 L262.46,279.15 L261.77,279.11 L261.08,279.06 L260.39,279.02 L259.69,278.97 L259.00,278.92 L258.31,278.87 L257.62,278.83 L256.93,278.78 L256.24,278.73 L255.54,278.68 L254.85,278.63 L254.16,278.58 L253.47,278.53 L252.78,278.48 L252.08,278.43 L251.39,278.38 L250.70,278.33 L250.01,278.28 L249.32,278.23 L248.62,278.18 L247.93,278.12 L247.24,278.07 L246.55,278.02 L245.86,277.97 L245.16,277.91 L244.47,277.86 L243.78,277.81 L243.08,277.75 L242.39,277.70 L241.70,277.65 L241.00,277.59 L240.31,277.54 L239.62,277.48 L238.92,277.43 L238.23,277.37 L237.54,277.32 L236.84,277.26 L236.15,277.21 L235.45,277.15 L234.76,277.09 L234.06,277.04 L233.37,276.98 L232.67,276.93 L231.98,276.87 L231.28,276.81 L230.58,276.76 L229.89,276.70 L229.19,276.64 L228.49,276.58 L227.80,276.53 L227.10,276.47 L226.40,276.41 L225.70,276.35 L225.01,276.30 L224.31,276.24 L223.61,276.18 L222.91,276.12 L222.21,276.06 L221.51,276.01 L220.81,275.95 L220.11,275.89 L219.41,275.83 L218.71,275.77 L218.01,275.71 L217.31,275.65 L216.61,275.60 L215.90,275.54 L215.20,275.48 L214.50,275.42 L213.79,275.36 L213.09,275.30 L212.39,275.24 L211.68,275.18 L210.98,275.12 L210.27,275.07 L209.57,275.01 L208.86,274.95 L208.16,274.89 L207.45,274.83 L206.74,274.77 L206.03,274.71 L205.33,274.65 L204.62,274.59 L203.91,274.54 L203.20,274.48 L202.49,274.42 L201.78,274.36 L201.07,274.30 L200.36,274.24 L199.65,274.18 L198.94,274.13 L198.22,274.07 L197.51,274.01 L196.80,273.95 L196.08,273.89 L195.37,273.83 L194.66,273.77 L193.94,273.71 L193.23,273.65 L192.51,273.59 L191.80,273.53 L191.08,273.47 L190.37,273.40 L189.65,273.34 L188.94,273.27 L188.23,273.21 L187.51,273.14 L186.80,273.07 L186.08,273.00 L185.37,272.93 L184.65,272.86 L183.94,272.79 L183.23,272.71 L182.51,272.64 L181.80,272.56 L181.09,272.48 L180.38,272.40 L179.67,272.32 L178.96,272.24 L178.24,272.15 L177.54,272.06 L176.83,271.97 L176.12,271.88 L175.41,271.79 L174.70,271.69 L174.00,271.59 L173.29,271.49 L172.58,271.39 L171.88,271.28 L171.18,271.17 L170.47,271.06 L169.77,270.95 L169.07,270.84 L168.37,270.72 L167.67,270.60 L166.98,270.47 L166.28,270.34 L165.59,270.21 L164.89,270.08 L164.20,269.95 L163.51,269.81 L162.82,269.66 L162.13,269.52 L161.44,269.37 L160.75,269.21 L160.07,269.06 L159.38,268.90 L158.70,268.73 L158.02,268.57 L157.34,268.40 L156.66,268.22 L155.99,268.04 L155.31,267.86 L154.64,267.67 L153.97,267.48 L153.30,267.29 L152.63,267.09 L151.97,266.89 L151.30,266.68 L150.64,266.47 L149.98,266.25 L149.32,266.03 L148.66,265.80 L148.01,265.57 L147.36,265.34 L146.71,265.10 L146.06,264.85 L145.41,264.60 L144.77,264.35 L144.13,264.09 L143.49,263.82 L142.85,263.55 L142.21,263.28 L141.58,263.00 L140.95,262.71 L140.32,262.42 L139.70,262.12 L139.08,261.82 L138.46,261.51 L137.84,261.20 L137.23,260.88 L136.62,260.56 L136.02,260.23 L135.42,259.89 L134.82,259.55 L134.23,259.20 L133.64,258.85 L133.05,258.49 L132.47,258.12 L131.89,257.75 L131.32,257.37 L130.76,256.99 L130.19,256.60 L129.64,256.20 L129.08,255.80 L128.54,255.39 L127.99,254.98 L127.46,254.56 L126.93,254.13 L126.40,253.69 L125.88,253.25 L125.37,252.81 L124.86,252.35 L124.36,251.89 L123.87,251.42 L123.38,250.95 L122.90,250.47 L122.42,249.98 L121.96,249.48 L121.50,248.98 L121.04,248.47 L120.59,247.96 L120.16,247.43 L119.72,246.90 L119.30,246.37 L118.88,245.83 L118.47,245.28 L118.06,244.72 L117.66,244.16 L117.27,243.60 L116.89,243.03 L116.51,242.45 L116.14,241.86 L115.77,241.28 L115.41,240.68 L115.06,240.08 L114.72,239.48 L114.38,238.87 L114.05,238.25 L113.72,237.63 L113.41,237.01 L113.09,236.38 L112.79,235.75 L112.49,235.11 L112.20,234.47 L111.91,233.82 L111.63,233.17 L111.36,232.52 L111.09,231.86 L110.83,231.20 L110.58,230.53 L110.33,229.86 L110.09,229.19 L109.86,228.51 L109.63,227.83 L109.41,227.15 L109.19,226.47 L108.98,225.78 L108.77,225.09 L108.57,224.40 L108.38,223.71 L108.19,223.01 L108.01,222.31 L107.83,221.61 L107.65,220.91 L107.49,220.21 L107.32,219.50 L107.17,218.80 L107.01,218.09 L106.86,217.38 L106.72,216.67 L106.58,215.96 L106.45,215.25 L106.32,214.54 L106.19,213.83 L106.07,213.12 L105.95,212.41 L105.84,211.70 L105.73,210.99 L105.62,210.28 L105.52,209.57 L105.42,208.86 L105.32,208.15 L105.23,207.44 L105.14,206.74 L105.06,206.03 L104.98,205.33 L104.90,204.63 L104.83,203.93 L104.75,203.23 L104.68,202.54 L104.62,201.84 L104.55,201.15 L104.49,200.46 L104.43,199.78 L104.38,199.09 L104.32,198.41 L104.27,197.73 L104.22,197.06 L104.17,196.39 L104.13,195.72 L104.09,195.06 L104.04,194.39 L104.00,193.74 L103.97,193.08 Z" fill="#3C84CA"/>
<path d="M67.61,307.82 L67.85,307.15 L68.08,306.48 L68.32,305.81 L68.55,305.13 L68.78,304.46 L69.00,303.79 L69.23,303.11 L69.45,302.44 L69.67,301.76 L69.88,301.09 L70.10,300.41 L70.31,299.74 L70.52,299.06 L70.73,298.38 L70.93,297.70 L71.13,297.03 L71.34,296.35 L71.53,295.67 L71.73,294.99 L71.92,294.31 L72.12,293.63 L72.31,292.95 L72.49,292.27 L72.68,291.59 L72.86,290.91 L73.05,290.23 L73.22,289.55 L73.40,288.86 L73.58,288.18 L73.75,287.50 L73.92,286.81 L74.09,286.13 L74.26,285.45 L74.43,284.76 L74.59,284.08 L74.75,283.39 L74.91,282.71 L75.07,282.02 L75.22,281.33 L75.38,280.65 L75.53,279.96 L75.68,279.27 L75.83,278.59 L75.98,277.90 L76.12,277.21 L76.27,276.52 L76.41,275.83 L76.55,275.14 L76.69,274.46 L76.83,273.77 L76.96,273.08 L77.09,272.39 L77.23,271.70 L77.36,271.00 L77.49,270.31 L77.61,269.62 L77.74,268.93 L77.86,268.24 L77.99,267.55 L78.11,266.85 L78.23,266.16 L78.35,265.47 L78.46,264.78 L78.58,264.08 L78.69,263.39 L78.80,262.70 L78.91,262.00 L79.02,261.31 L79.13,260.61 L79.24,259.92 L79.35,259.22 L79.45,258.53 L79.55,257.83 L79.66,257.14 L79.76,256.44 L79.86,255.74 L79.95,255.05 L80.05,254.35 L80.15,253.65 L80.24,252.96 L80.34,252.26 L80.43,251.56 L80.52,250.86 L80.61,250.17 L80.70,249.47 L80.79,248.77 L80.87,248.07 L80.96,247.37 L81.05,246.68 L81.13,245.98 L81.21,245.28 L81.30,244.58 L81.38,243.88 L81.46,243.18 L81.54,242.48 L81.61,241.78 L81.69,241.08 L81.77,240.38 L81.84,239.68 L81.92,238.98 L81.99,238.28 L82.07,237.58 L82.14,236.88 L82.21,236.18 L82.28,235.47 L82.35,234.77 L82.42,234.07 L82.49,233.37 L82.56,232.67 L82.63,231.97 L82.70,231.26 L82.76,230.56 L82.83,229.86 L82.89,229.16 L82.96,228.46 L83.02,227.75 L83.09,227.05 L83.15,226.35 L83.21,225.65 L83.27,224.94 L83.33,224.24 L83.40,223.54 L83.46,222.83 L83.52,222.13 L83.58,221.43 L83.64,220.73 L83.70,220.02 L83.75,219.32 L83.81,218.62 L83.87,217.91 L83.93,217.21 L83.99,216.50 L84.04,215.80 L84.10,215.10 L84.16,214.39 L84.21,213.69 L84.27,212.99 L84.33,212.28 L84.38,211.58 L84.44,210.88 L84.49,210.17 L84.55,209.47 L84.60,208.76 L84.66,208.06 L84.71,207.36 L84.77,206.65 L84.83,205.95 L84.88,205.24 L84.94,204.54 L84.99,203.84 L85.05,203.13 L85.10,202.43 L85.16,201.72 L85.21,201.02 L85.27,200.32 L85.32,199.61 L85.38,198.91 L85.44,198.21 L85.49,197.50 L85.55,196.80 L85.60,196.09 L85.66,195.39 L85.72,194.69 L85.77,193.98 L85.83,193.28 L85.89,192.58 L85.95,191.87 L86.01,191.17 L86.06,190.47 L86.12,189.76 L86.18,189.06 L86.24,188.36 L86.30,187.66 L86.36,186.95 L86.42,186.25 L86.49,185.55 L86.55,184.84 L86.61,184.14 L86.67,183.44 L86.74,182.74 L86.80,182.03 L86.87,181.33 L86.93,180.63 L87.00,179.93 L87.06,179.23 L87.13,178.53 L87.20,177.82 L87.27,177.12 L87.33,176.42 L87.40,175.72 L87.47,175.02 L87.55,174.32 L87.62,173.62 L87.69,172.92 L87.76,172.22 L87.84,171.52 L87.91,170.81 L87.99,170.11 L88.06,169.41 L88.14,168.72 L88.22,168.02 L88.30,167.32 L88.38,166.62 L88.46,165.92 L88.54,165.22 L88.62,164.52 L88.71,163.82 L88.79,163.12 L88.88,162.42 L88.97,161.73 L89.05,161.03 L89.14,160.33 L89.23,159.63 L89.32,158.94 L89.42,158.24 L89.51,157.54 L89.60,156.85 L89.70,156.15 L89.80,155.45 L89.89,154.76 L89.99,154.06 L90.09,153.36 L90.20,152.67 L90.30,151.97 L90.40,151.28 L90.51,150.58 L90.61,149.89 L90.72,149.20 L90.83,148.50 L90.94,147.81" fill="none" stroke="#3C84CA" stroke-width="3.4"/>
<path d="M90.85,147.84 L91.16,148.48 L91.46,149.14 L91.75,149.79 L92.04,150.44 L92.33,151.10 L92.61,151.75 L92.89,152.41 L93.16,153.07 L93.43,153.73 L93.69,154.39 L93.95,155.06 L94.21,155.72 L94.46,156.39 L94.71,157.05 L94.95,157.72 L95.19,158.39 L95.42,159.06 L95.65,159.73 L95.88,160.40 L96.10,161.07 L96.33,161.75 L96.54,162.42 L96.76,163.10 L96.97,163.77 L97.17,164.45 L97.38,165.13 L97.58,165.81 L97.78,166.49 L97.97,167.17 L98.16,167.85 L98.35,168.53 L98.54,169.22 L98.72,169.90 L98.91,170.59 L99.08,171.27 L99.26,171.96 L99.44,172.64 L99.61,173.33 L99.78,174.02 L99.95,174.71 L100.12,175.40 L100.28,176.09 L100.44,176.78 L100.61,177.47 L100.77,178.16 L100.92,178.85 L101.08,179.54 L101.24,180.23 L101.39,180.92 L101.54,181.62 L101.70,182.31 L101.85,183.00 L102.00,183.70 L102.15,184.39 L102.30,185.09 L102.44,185.78 L102.59,186.47 L102.74,187.17 L102.88,187.86 L103.03,188.56 L103.17,189.25 L103.32,189.95 L103.46,190.64 L103.61,191.34 L103.76,192.03 L103.90,192.73 L104.05,193.43 L104.19,194.12 L104.34,194.82 L104.48,195.51 L104.63,196.21 L104.78,196.90 L104.93,197.59 L105.08,198.29 L105.23,198.98 L105.38,199.68 L105.53,200.37 L105.68,201.06 L105.84,201.76 L105.99,202.45 L106.15,203.14 L106.31,203.83 L106.46,204.52 L106.63,205.22 L106.79,205.91 L106.95,206.60 L107.12,207.29 L107.29,207.98 L107.46,208.66 L107.63,209.35 L107.80,210.04 L107.98,210.73 L108.16,211.41 L108.34,212.10 L108.52,212.78 L108.71,213.47 L108.90,214.15 L109.09,214.83 L109.28,215.52 L109.48,216.20 L109.68,216.88 L109.88,217.56 L110.09,218.24 L110.30,218.91 L110.51,219.59 L110.73,220.27 L110.95,220.94 L111.17,221.62 L111.40,222.29 L111.63,222.96 L111.86,223.63 L112.10,224.30 L112.34,224.97 L112.58,225.64 L112.83,226.31 L113.09,226.97" fill="none" stroke="#3C84CA" stroke-width="3.2"/>
<path d="M91.22,148.07 L91.55,148.69 L91.88,149.31 L92.21,149.93 L92.53,150.56 L92.85,151.19 L93.17,151.82 L93.48,152.45 L93.79,153.08 L94.10,153.72 L94.40,154.36 L94.70,154.99 L95.00,155.63 L95.29,156.28 L95.58,156.92 L95.87,157.57 L96.16,158.21 L96.44,158.86 L96.72,159.51 L97.00,160.16 L97.28,160.81 L97.56,161.47 L97.83,162.12 L98.10,162.77 L98.37,163.43 L98.64,164.09 L98.90,164.75 L99.17,165.41 L99.43,166.07 L99.69,166.73 L99.95,167.39 L100.21,168.05 L100.47,168.71 L100.73,169.38 L100.99,170.04 L101.24,170.70 L101.50,171.37 L101.75,172.03 L102.00,172.70 L102.26,173.36 L102.51,174.03 L102.76,174.70 L103.02,175.36 L103.27,176.03 L103.52,176.69 L103.78,177.36 L104.03,178.02 L104.28,178.69 L104.54,179.36 L104.79,180.02 L105.05,180.68 L105.30,181.35 L105.56,182.01 L105.82,182.68 L106.08,183.34 L106.34,184.00 L106.60,184.66 L106.86,185.32 L107.12,185.98 L107.39,186.64 L107.65,187.30 L107.92,187.96 L108.19,188.61 L108.46,189.27 L108.74,189.92 L109.01,190.58 L109.29,191.23 L109.57,191.88 L109.85,192.53 L110.14,193.18 L110.43,193.82 L110.72,194.47 L111.01,195.11 L111.30,195.75 L111.60,196.39 L111.90,197.03 L112.21,197.67 L112.52,198.30 L112.83,198.94 L113.14,199.57 L113.46,200.20 L113.78,200.83 L114.10,201.45 L114.43,202.08 L114.76,202.70 L115.10,203.32 L115.44,203.93 L115.78,204.55 L116.13,205.16 L116.48,205.77 L116.84,206.38 L117.20,206.98 L117.57,207.58 L117.94,208.18 L118.31,208.78 L118.69,209.38 L119.08,209.97 L119.47,210.56 L119.86,211.14 L120.26,211.72 L120.67,212.30 L121.08,212.88 L121.49,213.45 L121.91,214.02 L122.34,214.59 L122.77,215.16 L123.21,215.72 L123.66,216.27 L124.11,216.83 L124.57,217.38 L125.03,217.93 L125.50,218.47 L125.98,219.01 L126.46,219.55 L126.95,220.08" fill="none" stroke="#3C84CA" stroke-width="1.8"/>
<polygon points="91,147.2 87.6,163 92.8,158.5 95.3,155.5" fill="#3C84CA"/>
</g>
<path d="M67.61,307.82 L67.85,307.15 L68.08,306.48 L68.32,305.81 L68.55,305.13 L68.78,304.46 L69.00,303.79 L69.23,303.11 L69.45,302.44 L69.67,301.76 L69.88,301.09 L70.10,300.41 L70.31,299.74 L70.52,299.06 L70.73,298.38 L70.93,297.70 L71.13,297.03 L71.34,296.35 L71.53,295.67 L71.73,294.99 L71.92,294.31 L72.12,293.63 L72.31,292.95 L72.49,292.27 L72.68,291.59 L72.86,290.91 L73.05,290.23 L73.22,289.55 L73.40,288.86 L73.58,288.18 L73.75,287.50 L73.92,286.81 L74.09,286.13 L74.26,285.45 L74.43,284.76 L74.59,284.08 L74.75,283.39 L74.91,282.71 L75.07,282.02 L75.22,281.33 L75.38,280.65 L75.53,279.96 L75.68,279.27 L75.83,278.59 L75.98,277.90 L76.12,277.21 L76.27,276.52 L76.41,275.83 L76.55,275.14 L76.69,274.46 L76.83,273.77 L76.96,273.08 L77.09,272.39 L77.23,271.70 L77.36,271.00 L77.49,270.31 L77.61,269.62 L77.74,268.93 L77.86,268.24 L77.99,267.55 L78.11,266.85 L78.23,266.16 L78.35,265.47 L78.46,264.78 L78.58,264.08 L78.69,263.39 L78.80,262.70 L78.91,262.00 L79.02,261.31 L79.13,260.61 L79.24,259.92 L79.35,259.22 L79.45,258.53 L79.55,257.83 L79.66,257.14 L79.76,256.44 L79.86,255.74 L79.95,255.05 L80.05,254.35 L80.15,253.65 L80.24,252.96 L80.34,252.26 L80.43,251.56 L80.52,250.86 L80.61,250.17 L80.70,249.47 L80.79,248.77 L80.87,248.07 L80.96,247.37 L81.05,246.68 L81.13,245.98 L81.21,245.28 L81.30,244.58 L81.38,243.88 L81.46,243.18 L81.54,242.48 L81.61,241.78 L81.69,241.08 L81.77,240.38 L81.84,239.68 L81.92,238.98 L81.99,238.28 L82.07,237.58 L82.14,236.88 L82.21,236.18 L82.28,235.47 L82.35,234.77 L82.42,234.07 L82.49,233.37 L82.56,232.67 L82.63,231.97 L82.70,231.26 L82.76,230.56 L82.83,229.86 L82.89,229.16 L82.96,228.46 L83.02,227.75 L83.09,227.05 L83.15,226.35 L83.21,225.65 L83.27,224.94 L83.33,224.24 L83.40,223.54 L83.46,222.83 L83.52,222.13 L83.58,221.43 L83.64,220.73 L83.70,220.02 L83.75,219.32 L83.81,218.62 L83.87,217.91 L83.93,217.21 L83.99,216.50 L84.04,215.80 L84.10,215.10 L84.16,214.39 L84.21,213.69 L84.27,212.99 L84.33,212.28 L84.38,211.58 L84.44,210.88 L84.49,210.17 L84.55,209.47 L84.60,208.76 L84.66,208.06 L84.71,207.36 L84.77,206.65 L84.83,205.95 L84.88,205.24 L84.94,204.54 L84.99,203.84 L85.05,203.13 L85.10,202.43 L85.16,201.72 L85.21,201.02 L85.27,200.32 L85.32,199.61 L85.38,198.91 L85.44,198.21 L85.49,197.50 L85.55,196.80 L85.60,196.09 L85.66,195.39 L85.72,194.69 L85.77,193.98 L85.83,193.28 L85.89,192.58 L85.95,191.87 L86.01,191.17 L86.06,190.47 L86.12,189.76 L86.18,189.06 L86.24,188.36 L86.30,187.66 L86.36,186.95 L86.42,186.25 L86.49,185.55 L86.55,184.84 L86.61,184.14 L86.67,183.44 L86.74,182.74 L86.80,182.03 L86.87,181.33 L86.93,180.63 L87.00,179.93 L87.06,179.23 L87.13,178.53 L87.20,177.82 L87.27,177.12 L87.33,176.42 L87.40,175.72 L87.47,175.02 L87.55,174.32 L87.62,173.62 L87.69,172.92 L87.76,172.22 L87.84,171.52 L87.91,170.81 L87.99,170.11 L88.06,169.41 L88.14,168.72 L88.22,168.02 L88.30,167.32 L88.38,166.62 L88.46,165.92 L88.54,165.22 L88.62,164.52 L88.71,163.82 L88.79,163.12 L88.88,162.42 L88.97,161.73 L89.05,161.03 L89.14,160.33 L89.23,159.63 L89.32,158.94 L89.42,158.24 L89.51,157.54 L89.60,156.85 L89.70,156.15 L89.80,155.45 L89.89,154.76 L89.99,154.06 L90.09,153.36 L90.20,152.67 L90.30,151.97 L90.40,151.28 L90.51,150.58 L90.61,149.89 L90.72,149.20 L90.83,148.50 L90.94,147.81" fill="none" stroke="#1F6CB8" stroke-width="0.9" stroke-dasharray="5,2.5,1.2,2.5" opacity="0.7"/>
<path d="M112.93,220.76 L113.26,221.44 L113.61,222.11 L113.95,222.77 L114.31,223.43 L114.67,224.08 L115.04,224.72 L115.41,225.36 L115.80,225.99 L116.18,226.61 L116.58,227.23 L116.98,227.84 L117.38,228.44 L117.80,229.03 L118.22,229.62 L118.64,230.21 L119.07,230.78 L119.51,231.35 L119.95,231.91 L120.39,232.47 L120.85,233.02 L121.30,233.57 L121.77,234.10 L122.24,234.64 L122.71,235.16 L123.19,235.68 L123.67,236.20 L124.16,236.70 L124.66,237.20 L125.15,237.70 L125.66,238.19 L126.17,238.67 L126.68,239.15 L127.20,239.62 L127.72,240.09 L128.24,240.55 L128.77,241.00 L129.31,241.45 L129.85,241.90 L130.39,242.33 L130.94,242.77 L131.49,243.19 L132.04,243.62 L132.60,244.03 L133.16,244.44 L133.73,244.85 L134.30,245.25 L134.87,245.64 L135.45,246.03 L136.03,246.42 L136.61,246.80 L137.20,247.17 L137.79,247.54 L138.38,247.91 L138.97,248.27 L139.57,248.62 L140.17,248.97 L140.78,249.31 L141.38,249.65 L141.99,249.99 L142.60,250.32 L143.22,250.65 L143.83,250.97 L144.45,251.28 L145.07,251.60 L145.69,251.90 L146.32,252.21 L146.95,252.51 L147.57,252.80 L148.20,253.09 L148.84,253.38 L149.47,253.66 L150.11,253.94 L150.74,254.21 L151.38,254.48 L152.02,254.74 L152.66,255.00 L153.31,255.26 L153.95,255.51 L154.60,255.76 L155.24,256.01 L155.89,256.25 L156.54,256.48 L157.19,256.72 L157.84,256.95 L158.50,257.17 L159.15,257.39 L159.81,257.61 L160.47,257.83 L161.13,258.04 L161.79,258.25 L162.45,258.45 L163.11,258.65 L163.78,258.85 L164.44,259.04 L165.11,259.23 L165.78,259.41 L166.45,259.60 L167.12,259.78 L167.79,259.95 L168.46,260.12 L169.13,260.29 L169.81,260.46 L170.49,260.62 L171.16,260.78 L171.84,260.94 L172.52,261.09 L173.20,261.24 L173.88,261.39 L174.56,261.54 L175.25,261.68 L175.93,261.82 L176.62,261.95 L177.30,262.09 L177.99,262.22 L178.68,262.34 L179.37,262.47 L180.05,262.59 L180.75,262.71 L181.44,262.82 L182.13,262.94 L182.82,263.05 L183.52,263.16 L184.21,263.26 L184.91,263.37 L185.60,263.47 L186.30,263.57 L187.00,263.66 L187.70,263.76 L188.40,263.85 L189.10,263.94 L189.80,264.02 L190.50,264.11 L191.20,264.19 L191.91,264.27 L192.61,264.35 L193.31,264.43 L194.02,264.50 L194.73,264.57 L195.43,264.64 L196.14,264.71 L196.85,264.77 L197.55,264.84 L198.26,264.90 L198.97,264.96 L199.68,265.02 L200.39,265.08 L201.10,265.13 L201.81,265.18 L202.52,265.23 L203.24,265.28 L203.95,265.33 L204.66,265.38 L205.37,265.42 L206.09,265.47 L206.80,265.51 L207.52,265.55 L208.23,265.59 L208.95,265.63 L209.66,265.66 L210.38,265.70 L211.09,265.73 L211.81,265.76 L212.53,265.79 L213.24,265.82 L213.96,265.85 L214.68,265.88 L215.39,265.91 L216.11,265.93 L216.83,265.96 L217.55,265.98 L218.27,266.00 L218.98,266.02 L219.70,266.05 L220.42,266.07 L221.14,266.08 L221.86,266.10 L222.58,266.12 L223.30,266.14 L224.02,266.15 L224.74,266.17 L225.45,266.18 L226.17,266.20 L226.89,266.21 L227.61,266.22 L228.33,266.23 L229.05,266.25 L229.77,266.26 L230.49,266.27 L231.21,266.28 L231.92,266.29 L232.64,266.30 L233.36,266.31 L234.08,266.32 L234.80,266.33 L235.52,266.33 L236.23,266.34 L236.95,266.35 L237.67,266.36 L238.39,266.37 L239.10,266.38 L239.82,266.39 L240.54,266.39 L241.25,266.40 L241.97,266.41 L242.68,266.42 L243.40,266.43 L244.11,266.44 L244.83,266.45 L245.54,266.46 L246.26,266.47 L246.97,266.48 L247.68,266.49 L248.40,266.50 L249.11,266.51 L249.82,266.52 L250.53,266.54 L251.24,266.55 L251.95,266.56 L252.66,266.58 L253.37,266.59 L254.08,266.61 L254.79,266.62 L255.50,266.64 L256.20,266.66 L256.91,266.68 L257.62,266.70 L258.32,266.72 L259.03,266.74 L259.73,266.76 L260.43,266.78 L261.14,266.81 L261.84,266.83 L262.54,266.86 L263.24,266.88 L263.94,266.91 L264.64,266.94 L265.34,266.97 L266.04,267.00 L266.73,267.04 L267.43,267.07 L268.12,267.11 L268.82,267.14 L269.51,267.18 L270.21,267.22 L270.90,267.26 L271.59,267.31 L272.28,267.35 L272.97,267.40 L273.66,267.44 L274.34,267.49 L275.03,267.54 L275.72,267.59 L276.40,267.65 L277.09,267.70 L277.77,267.76 L278.45,267.82 L279.13,267.88 L279.81,267.94 L280.49,268.01 L281.17,268.08 L281.84,268.15 L282.52,268.22 L283.19,268.29 L283.87,268.36 L284.54,268.44 L285.21,268.52 L285.88,268.60 L286.55,268.68 L287.21,268.77 L287.88,268.86 L288.55,268.95 L289.21,269.04 L289.87,269.14" fill="none" stroke="#1F6CB8" stroke-width="1.1" stroke-dasharray="6,3,1.5,3" opacity="0.8"/>
<path d="M67.01,307.82 L67.01,307.11 L67.01,306.40 L67.01,305.69 L67.02,304.98 L67.02,304.28 L67.02,303.57 L67.02,302.86 L67.03,302.15 L67.03,301.44 L67.03,300.74 L67.03,300.03 L67.04,299.32 L67.04,298.61 L67.04,297.91 L67.04,297.20 L67.05,296.50 L67.05,295.79 L67.05,295.08 L67.05,294.38 L67.06,293.67 L67.06,292.97 L67.06,292.26 L67.07,291.56 L67.07,290.85 L67.07,290.15 L67.08,289.45 L67.08,288.74 L67.08,288.04 L67.09,287.33 L67.09,286.63 L67.09,285.93 L67.10,285.22 L67.10,284.52 L67.10,283.82 L67.11,283.12 L67.11,282.41 L67.11,281.71 L67.12,281.01 L67.12,280.31 L67.13,279.61 L67.13,278.90 L67.13,278.20 L67.14,277.50 L67.14,276.80 L67.15,276.10 L67.15,275.40 L67.16,274.70 L67.16,274.00 L67.16,273.30 L67.17,272.60 L67.17,271.90 L67.18,271.20 L67.18,270.50 L67.19,269.80 L67.20,269.10 L67.20,268.40 L67.21,267.70 L67.21,267.00 L67.22,266.30 L67.22,265.60 L67.23,264.90 L67.23,264.20 L67.24,263.50 L67.25,262.80 L67.25,262.10 L67.26,261.41 L67.27,260.71 L67.27,260.01 L67.28,259.31 L67.29,258.61 L67.29,257.91 L67.30,257.21 L67.31,256.52 L67.32,255.82 L67.32,255.12 L67.33,254.42 L67.34,253.72 L67.35,253.03 L67.36,252.33 L67.36,251.63 L67.37,250.93 L67.38,250.23 L67.39,249.54 L67.40,248.84 L67.41,248.14 L67.42,247.44 L67.43,246.75 L67.43,246.05 L67.44,245.35 L67.45,244.65 L67.46,243.96 L67.47,243.26 L67.48,242.56 L67.49,241.86 L67.51,241.17 L67.52,240.47 L67.53,239.77 L67.54,239.07 L67.55,238.38 L67.56,237.68 L67.57,236.98 L67.58,236.28 L67.60,235.59 L67.61,234.89 L67.62,234.19 L67.63,233.49 L67.65,232.80 L67.66,232.10 L67.67,231.40 L67.68,230.70 L67.70,230.01 L67.71,229.31 L67.73,228.61 L67.74,227.91 L67.75,227.21 L67.77,226.52 L67.78,225.82 L67.80,225.12 L67.81,224.42 L67.83,223.72 L67.84,223.03 L67.86,222.33 L67.87,221.63 L67.89,220.93 L67.91,220.23 L67.92,219.53 L67.94,218.83 L67.96,218.14 L67.97,217.44 L67.99,216.74 L68.01,216.04 L68.03,215.34 L68.05,214.64 L68.06,213.94 L68.08,213.24 L68.10,212.54 L68.12,211.84 L68.14,211.14 L68.16,210.44 L68.18,209.74 L68.20,209.04 L68.22,208.34 L68.24,207.64 L68.26,206.94 L68.28,206.24 L68.30,205.54 L68.32,204.84 L68.35,204.14 L68.37,203.44 L68.39,202.74 L68.41,202.04 L68.43,201.34 L68.46,200.63 L68.48,199.93 L68.50,199.23 L68.53,198.53 L68.55,197.83 L68.58,197.12 L68.60,196.42 L68.63,195.72 L68.65,195.02 L68.68,194.31 L68.70,193.61 L68.73,192.91 L68.76,192.20 L68.78,191.50 L68.81,190.79 L68.84,190.09 L68.86,189.39 L68.89,188.68 L68.92,187.98 L68.95,187.27 L68.98,186.57 L69.00,185.86 L69.03,185.16 L69.06,184.45 L69.09,183.75 L69.12,183.04 L69.15,182.33 L69.18,181.63 L69.22,180.92 L69.25,180.21 L69.28,179.51 L69.31,178.80 L69.34,178.09 L69.38,177.38 L69.41,176.67 L69.44,175.97 L69.48,175.26 L69.51,174.55 L69.54,173.84 L69.58,173.13 L69.61,172.42 L69.65,171.71 L69.68,171.00 L69.72,170.29 L69.76,169.58 L69.79,168.87 L69.83,168.16 L69.87,167.45 L69.91,166.74 L69.95,166.02 L69.99,165.31 L70.03,164.60 L70.08,163.89 L70.13,163.17 L70.18,162.46 L70.23,161.75 L70.29,161.04 L70.36,160.32 L70.43,159.61 L70.50,158.90 L70.58,158.18 L70.67,157.47 L70.76,156.76 L70.86,156.04 L70.97,155.33 L71.09,154.62 L71.21,153.90 L71.34,153.19 L71.48,152.48 L71.63,151.76 L71.79,151.05 L71.96,150.34 L72.14,149.63 L72.33,148.91 L72.53,148.20 L72.74,147.49 L72.97,146.79 L73.21,146.10 L73.46,145.45 L73.73,144.86 L74.02,144.32 L74.33,143.87 L74.66,143.51 L75.01,143.26 L75.37,143.11 L75.76,143.06 L76.15,143.11 L76.56,143.26 L76.98,143.50 L77.40,143.83 L77.83,144.24 L78.25,144.72 L78.68,145.24 L79.11,145.80 L79.53,146.37 L79.96,146.94 L80.38,147.52 L80.79,148.09 L81.21,148.67 L81.62,149.25 L82.03,149.83 L82.43,150.41 L82.84,150.99 L83.24,151.57 L83.64,152.15 L84.04,152.74 L84.43,153.32 L84.83,153.90 L85.22,154.49 L85.62,155.07 L86.01,155.66 L86.40,156.24 L86.79,156.82 L87.18,157.41 L87.57,157.99 L87.96,158.58 L88.35,159.16 L88.75,159.74 L89.14,160.33 L89.53,160.91 L89.92,161.49 L90.31,162.07 L90.70,162.65 L91.10,163.23 L91.49,163.80 L91.89,164.38 L92.29,164.96 L92.69,165.53 L93.09,166.10 L93.50,166.67 L93.90,167.24 L94.31,167.81 L94.72,168.38 L95.14,168.94 L95.55,169.50 L95.97,170.06 L96.39,170.62 L96.82,171.18 L97.24,171.73 L97.67,172.29 L98.10,172.84 L98.54,173.39 L98.97,173.93 L99.41,174.48 L99.85,175.02 L100.29,175.57 L100.74,176.11 L101.19,176.64 L101.64,177.18 L102.09,177.72 L102.55,178.25 L103.01,178.78 L103.47,179.31 L103.93,179.84 L104.39,180.36 L104.86,180.88 L105.33,181.41 L105.80,181.93 L106.27,182.44 L106.75,182.96 L107.23,183.47 L107.71,183.98 L108.19,184.49 L108.67,185.00 L109.16,185.51 L109.65,186.01 L110.14,186.52 L110.63,187.02 L111.13,187.51 L111.63,188.01 L112.13,188.51 L112.63,189.00 L113.13,189.49 L113.64,189.98 L114.15,190.47 L114.65,190.95 L115.17,191.43 L115.68,191.91 L116.20,192.39 L116.71,192.87 L117.23,193.35 L117.75,193.82 L118.28,194.29 L118.80,194.76 L119.33,195.23 L119.86,195.69 L120.39,196.15 L120.92,196.62 L121.46,197.07 L121.99,197.53 L122.53,197.99 L123.07,198.44 L123.61,198.89 L124.16,199.34 L124.70,199.79 L125.25,200.23 L125.80,200.68 L126.35,201.12 L126.90,201.56 L127.46,201.99 L128.01,202.43 L128.57,202.86 L129.13,203.29 L129.69,203.72 L130.25,204.15 L130.81,204.57 L131.38,204.99 L131.95,205.41 L132.51,205.83 L133.08,206.25 L133.66,206.66 L134.23,207.07 L134.80,207.48 L135.38,207.89 L135.96,208.30 L136.54,208.70 L137.12,209.10 L137.70,209.50 L138.28,209.90 L138.87,210.30 L139.45,210.69 L140.04,211.08 L140.63,211.47 L141.22,211.86 L141.81,212.24 L142.41,212.62 L143.00,213.00 L143.60,213.38 L144.19,213.76 L144.79,214.13 L145.39,214.51 L145.99,214.88 L146.59,215.24 L147.20,215.61 L147.80,215.97 L148.41,216.33 L149.01,216.69 L149.62,217.05 L150.23,217.40 L150.84,217.76 L151.45,218.11 L152.06,218.45 L152.68,218.80 L153.29,219.14 L153.91,219.49 L154.53,219.82 L155.14,220.16 L155.76,220.50 L156.38,220.83 L157.00,221.16 L157.63,221.49 L158.25,221.81 L158.87,222.14 L159.50,222.46 L160.12,222.78 L160.75,223.10 L161.38,223.41 L162.01,223.72 L162.64,224.03 L163.27,224.34 L163.90,224.65 L164.53,224.95 L165.16,225.25 L165.80,225.55 L166.43,225.85 L167.07,226.14 L167.70,226.44 L168.34,226.73 L168.98,227.01 L169.61,227.30 L170.25,227.58 L170.89,227.86 L171.53,228.14 L172.18,228.42 L172.82,228.69 L173.46,228.97 L174.10,229.24 L174.75,229.50 L175.39,229.77 L176.04,230.03 L176.69,230.30 L177.33,230.56 L177.98,230.81 L178.63,231.07 L179.28,231.32 L179.93,231.57 L180.58,231.82 L181.23,232.07 L181.88,232.32 L182.54,232.56 L183.19,232.80 L183.84,233.04 L184.50,233.28 L185.15,233.51 L185.81,233.75 L186.47,233.98 L187.12,234.21 L187.78,234.44 L188.44,234.66 L189.10,234.89 L189.76,235.11 L190.42,235.33 L191.08,235.55 L191.74,235.76 L192.40,235.98 L193.07,236.19 L193.73,236.40 L194.39,236.61 L195.06,236.82 L195.72,237.03 L196.39,237.23 L197.05,237.43 L197.72,237.64 L198.39,237.84 L199.06,238.03 L199.72,238.23 L200.39,238.42 L201.06,238.62 L201.73,238.81 L202.40,239.00 L203.08,239.18 L203.75,239.37 L204.42,239.55 L205.09,239.74 L205.76,239.92 L206.44,240.10 L207.11,240.28 L207.79,240.45 L208.46,240.63 L209.14,240.80 L209.81,240.98 L210.49,241.15 L211.17,241.32 L211.84,241.48 L212.52,241.65 L213.20,241.81 L213.88,241.98 L214.56,242.14 L215.24,242.30 L215.92,242.46 L216.60,242.62 L217.28,242.78 L217.96,242.93 L218.64,243.09 L219.33,243.24 L220.01,243.39 L220.69,243.54 L221.37,243.69 L222.06,243.84 L222.74,243.98 L223.43,244.13 L224.11,244.27 L224.80,244.42 L225.48,244.56 L226.17,244.70 L226.86,244.84 L227.54,244.97 L228.23,245.11 L228.92,245.25 L229.60,245.38 L230.29,245.52 L230.98,245.65 L231.67,245.78 L232.36,245.91 L233.05,246.04 L233.74,246.17 L234.43,246.29 L235.12,246.42 L235.81,246.55 L236.50,246.67 L237.19,246.79 L237.88,246.91 L238.57,247.04 L239.27,247.16 L239.96,247.27 L240.65,247.39 L241.34,247.51 L242.04,247.63 L242.73,247.74 L243.42,247.86 L244.12,247.97 L244.81,248.08 L245.51,248.20 L246.20,248.31 L246.90,248.42 L247.59,248.53 L248.29,248.64 L248.98,248.74 L249.68,248.85 L250.37,248.96 L251.07,249.06 L251.76,249.17 L252.46,249.27 L253.16,249.38 L253.85,249.48 L254.55,249.58 L255.25,249.68 L255.95,249.79 L256.64,249.89 L257.34,249.99 L258.04,250.08 L258.74,250.18 L259.43,250.28 L260.13,250.38 L260.83,250.48 L261.53,250.57 L262.23,250.67 L262.92,250.76 L263.62,250.86 L264.32,250.95 L265.02,251.04 L265.72,251.14 L266.42,251.23 L267.12,251.32 L267.82,251.41 L268.52,251.51 L269.22,251.60 L269.92,251.69 L270.61,251.78 L271.31,251.87 L272.01,251.96 L272.71,252.04 L273.41,252.13 L274.11,252.22 L274.81,252.31 L275.51,252.40 L276.21,252.48 L276.91,252.57 L277.61,252.66 L278.31,252.74 L279.01,252.83 L279.71,252.92 L280.41,253.00 L281.11,253.09 L281.81,253.17 L282.51,253.26 L283.21,253.34 L283.91,253.43 L284.61,253.51 L285.31,253.60 L286.01,253.68 L286.71,253.77 L287.41,253.85 L288.11,253.94 L288.81,254.02 L289.51,254.10 L290.21,254.19 L290.90,254.27 L291.60,254.36 L292.30,254.44 L293.00,254.52 L293.70,254.61 L294.40,254.69 L295.10,254.78 L295.80,254.86 L296.49,254.94 L297.19,255.03 L297.89,255.11 L298.59,255.20 L299.29,255.28 L299.98,255.37 L300.68,255.45 L301.38,255.53 L302.08,255.62 L302.77,255.70 L303.47,255.79 L304.17,255.88 L304.87,255.96 L305.56,256.05 L306.26,256.13 L306.95,256.22 L307.65,256.31 L308.35,256.39 L309.04,256.48 L309.74,256.57 L310.43,256.66 L311.13,256.75 L311.82,256.83 L312.52,256.92 L313.21,257.01 L313.90,257.10 L314.60,257.19 L315.29,257.28 L315.99,257.37 L316.68,257.46 L317.37,257.56 L318.06,257.65 L318.76,257.74 L319.45,257.83 L320.14,257.93 L320.83,258.02 L321.52,258.12 L322.21,258.21 L322.90,258.31 L323.59,258.40 L324.28,258.50 L324.97,258.60 L325.66,258.69 L326.35,258.79 L327.04,258.89 L327.73,258.99 L328.42,259.09 L329.11,259.19 L329.79,259.29 L330.48,259.40 L330.59,277.72 L329.91,277.54 L329.23,277.36 L328.55,277.19 L327.86,277.01 L327.18,276.83 L326.50,276.66 L325.82,276.49 L325.13,276.31 L324.45,276.14 L323.77,275.97 L323.09,275.79 L322.40,275.62 L321.72,275.45 L321.04,275.28 L320.35,275.11 L319.67,274.94 L318.99,274.77 L318.30,274.60 L317.62,274.44 L316.94,274.27 L316.25,274.10 L315.57,273.93 L314.89,273.77 L314.20,273.60 L313.52,273.44 L312.83,273.27 L312.15,273.11 L311.47,272.94 L310.78,272.78 L310.10,272.61 L309.41,272.45 L308.73,272.29 L308.05,272.12 L307.36,271.96 L306.68,271.80 L305.99,271.64 L305.31,271.47 L304.63,271.31 L303.94,271.15 L303.26,270.99 L302.57,270.83 L301.89,270.67 L301.21,270.51 L300.52,270.35 L299.84,270.19 L299.15,270.03 L298.47,269.87 L297.78,269.71 L297.10,269.55 L296.42,269.39 L295.73,269.24 L295.05,269.08 L294.36,268.92 L293.68,268.76 L293.00,268.60 L292.31,268.44 L291.63,268.29 L290.94,268.13 L290.26,267.97 L289.58,267.81 L288.89,267.66 L288.21,267.50 L287.52,267.34 L286.84,267.18 L286.16,267.03 L285.47,266.87 L284.79,266.71 L284.11,266.55 L283.42,266.40 L282.74,266.24 L282.06,266.08 L281.37,265.92 L280.69,265.77 L280.01,265.61 L279.32,265.45 L278.64,265.29 L277.96,265.13 L277.28,264.98 L276.59,264.82 L275.91,264.66 L275.23,264.50 L274.54,264.34 L273.86,264.18 L273.18,264.03 L272.50,263.87 L271.82,263.71 L271.13,263.55 L270.45,263.39 L269.77,263.23 L269.09,263.07 L268.41,262.91 L267.72,262.75 L267.04,262.59 L266.36,262.43 L265.68,262.27 L265.00,262.11 L264.32,261.94 L263.64,261.78 L262.96,261.62 L262.28,261.46 L261.60,261.29 L260.91,261.13 L260.23,260.97 L259.55,260.80 L258.87,260.64 L258.19,260.48 L257.51,260.31 L256.84,260.15 L256.16,259.98 L255.48,259.81 L254.80,259.65 L254.12,259.48 L253.44,259.31 L252.76,259.15 L252.08,258.98 L251.40,258.81 L250.73,258.64 L250.05,258.47 L249.37,258.30 L248.69,258.13 L248.01,257.96 L247.34,257.79 L246.66,257.62 L245.98,257.44 L245.31,257.27 L244.63,257.10 L243.95,256.92 L243.28,256.75 L242.60,256.57 L241.93,256.40 L241.25,256.22 L240.57,256.04 L239.90,255.87 L239.22,255.69 L238.55,255.51 L237.87,255.33 L237.20,255.15 L236.53,254.97 L235.85,254.79 L235.18,254.61 L234.50,254.42 L233.83,254.24 L233.16,254.06 L232.48,253.87 L231.81,253.69 L231.14,253.50 L230.47,253.31 L229.80,253.12 L229.12,252.94 L228.45,252.75 L227.78,252.56 L227.11,252.37 L226.44,252.17 L225.77,251.98 L225.10,251.79 L224.43,251.59 L223.76,251.40 L223.09,251.20 L222.42,251.01 L221.75,250.81 L221.08,250.61 L220.41,250.41 L219.74,250.21 L219.08,250.01 L218.41,249.81 L217.74,249.61 L217.07,249.40 L216.41,249.20 L215.74,248.99 L215.07,248.79 L214.41,248.58 L213.74,248.37 L213.08,248.16 L212.41,247.95 L211.75,247.74 L211.08,247.53 L210.42,247.31 L209.75,247.10 L209.09,246.88 L208.43,246.67 L207.76,246.45 L207.10,246.23 L206.44,246.01 L205.78,245.79 L205.11,245.57 L204.45,245.35 L203.79,245.12 L203.13,244.90 L202.47,244.67 L201.81,244.44 L201.15,244.21 L200.49,243.98 L199.83,243.75 L199.17,243.52 L198.51,243.29 L197.86,243.05 L197.20,242.82 L196.54,242.58 L195.88,242.34 L195.23,242.10 L194.57,241.86 L193.91,241.62 L193.26,241.38 L192.60,241.13 L191.95,240.89 L191.29,240.64 L190.64,240.39 L189.99,240.14 L189.33,239.89 L188.68,239.64 L188.03,239.39 L187.37,239.13 L186.72,238.88 L186.07,238.62 L185.42,238.36 L184.77,238.10 L184.12,237.84 L183.47,237.58 L182.82,237.31 L182.17,237.05 L181.52,236.78 L180.87,236.51 L180.22,236.24 L179.57,235.97 L178.93,235.70 L178.28,235.42 L177.63,235.15 L176.99,234.87 L176.34,234.59 L175.70,234.31 L175.05,234.03 L174.41,233.74 L173.76,233.46 L173.12,233.17 L172.48,232.88 L171.83,232.59 L171.19,232.30 L170.55,232.01 L169.91,231.72 L169.27,231.42 L168.63,231.12 L167.99,230.83 L167.35,230.53 L166.71,230.22 L166.07,229.92 L165.44,229.62 L164.80,229.31 L164.16,229.00 L163.53,228.69 L162.89,228.38 L162.26,228.07 L161.63,227.75 L160.99,227.44 L160.36,227.12 L159.73,226.80 L159.10,226.48 L158.47,226.16 L157.84,225.84 L157.21,225.51 L156.58,225.18 L155.96,224.86 L155.33,224.53 L154.71,224.19 L154.08,223.86 L153.46,223.53 L152.84,223.19 L152.22,222.85 L151.59,222.51 L150.97,222.17 L150.36,221.83 L149.74,221.49 L149.12,221.14 L148.50,220.80 L147.89,220.45 L147.27,220.10 L146.66,219.74 L146.05,219.39 L145.44,219.04 L144.83,218.68 L144.22,218.32 L143.61,217.96 L143.00,217.60 L142.40,217.24 L141.79,216.87 L141.19,216.51 L140.58,216.14 L139.98,215.77 L139.38,215.40 L138.78,215.03 L138.18,214.65 L137.59,214.28 L136.99,213.90 L136.40,213.52 L135.80,213.14 L135.21,212.76 L134.62,212.37 L134.03,211.99 L133.44,211.60 L132.85,211.21 L132.27,210.82 L131.68,210.43 L131.10,210.04 L130.52,209.64 L129.93,209.25 L129.36,208.85 L128.78,208.45 L128.20,208.05 L127.63,207.64 L127.05,207.24 L126.48,206.83 L125.91,206.42 L125.34,206.01 L124.77,205.60 L124.20,205.19 L123.64,204.77 L123.07,204.36 L122.51,203.94 L121.95,203.52 L121.39,203.10 L120.83,202.68 L120.28,202.25 L119.72,201.83 L119.17,201.40 L118.62,200.97 L118.07,200.54 L117.52,200.11 L116.97,199.67 L116.43,199.24 L115.88,198.80 L115.34,198.36 L114.80,197.92 L114.26,197.48 L113.73,197.03 L113.19,196.58 L112.66,196.14 L112.13,195.69 L111.60,195.24 L111.07,194.78 L110.54,194.33 L110.02,193.87 L109.50,193.42 L108.98,192.96 L108.46,192.50 L107.94,192.03 L107.43,191.57 L106.91,191.10 L106.40,190.64 L105.89,190.17 L105.38,189.70 L104.88,189.22 L104.37,188.75 L103.87,188.27 L103.37,187.79 L102.87,187.32 L102.38,186.83 L101.88,186.35 L101.39,185.87 L100.90,185.38 L100.42,184.89 L99.93,184.40 L99.45,183.91 L98.96,183.42 L98.48,182.92 L98.01,182.43 L97.53,181.93 L97.06,181.42 L96.59,180.92 L96.12,180.41 L95.65,179.90 L95.19,179.38 L94.73,178.86 L94.27,178.34 L93.82,177.82 L93.36,177.29 L92.91,176.76 L92.47,176.22 L92.02,175.68 L91.58,175.13 L91.14,174.58 L90.70,174.02 L90.27,173.46 L89.84,172.90 L89.41,172.33 L88.99,171.75 L88.57,171.17 L88.15,170.58 L87.73,169.99 L87.32,169.39 L86.91,168.78 L86.51,168.17 L86.10,167.55 L85.70,166.92 L85.31,166.29 L84.92,165.65 L84.53,165.00 L84.14,164.35 L83.76,163.69 L83.39,163.02 L83.01,162.35 L82.64,161.69 L82.26,161.05 L81.89,160.44 L81.51,159.88 L81.13,159.36 L80.75,158.92 L80.36,158.54 L79.97,158.25 L79.56,158.05 L79.15,157.96 L78.73,157.96 L78.31,158.06 L77.89,158.25 L77.47,158.52 L77.07,158.86 L76.67,159.29 L76.29,159.77 L75.93,160.33 L75.59,160.93 L75.27,161.58 L74.96,162.27 L74.67,163.00 L74.39,163.74 L74.13,164.50 L73.88,165.26 L73.65,166.03 L73.43,166.78 L73.22,167.54 L73.02,168.28 L72.84,169.03 L72.66,169.77 L72.50,170.50 L72.35,171.24 L72.21,171.96 L72.07,172.69 L71.95,173.41 L71.83,174.12 L71.73,174.84 L71.63,175.55 L71.54,176.26 L71.46,176.96 L71.38,177.67 L71.31,178.37 L71.25,179.07 L71.19,179.76 L71.13,180.46 L71.09,181.15 L71.04,181.85 L71.00,182.54 L70.97,183.23 L70.93,183.92 L70.90,184.60 L70.87,185.29 L70.85,185.98 L70.82,186.67 L70.80,187.35 L70.78,188.04 L70.75,188.73 L70.73,189.42 L70.71,190.11 L70.69,190.80 L70.66,191.49 L70.64,192.18 L70.62,192.87 L70.60,193.56 L70.58,194.25 L70.56,194.94 L70.54,195.63 L70.52,196.32 L70.50,197.02 L70.48,197.71 L70.46,198.40 L70.44,199.09 L70.42,199.79 L70.40,200.48 L70.39,201.18 L70.37,201.87 L70.35,202.56 L70.33,203.26 L70.31,203.95 L70.30,204.65 L70.28,205.35 L70.26,206.04 L70.25,206.74 L70.23,207.44 L70.21,208.13 L70.20,208.83 L70.18,209.53 L70.17,210.23 L70.15,210.92 L70.14,211.62 L70.12,212.32 L70.11,213.02 L70.09,213.72 L70.08,214.42 L70.06,215.12 L70.05,215.82 L70.04,216.52 L70.02,217.22 L70.01,217.92 L70.00,218.62 L69.98,219.32 L69.97,220.02 L69.96,220.72 L69.94,221.42 L69.93,222.12 L69.92,222.82 L69.91,223.52 L69.90,224.23 L69.88,224.93 L69.87,225.63 L69.86,226.33 L69.85,227.04 L69.84,227.74 L69.83,228.44 L69.82,229.14 L69.81,229.85 L69.80,230.55 L69.79,231.25 L69.77,231.96 L69.76,232.66 L69.76,233.36 L69.75,234.07 L69.74,234.77 L69.73,235.48 L69.72,236.18 L69.71,236.89 L69.70,237.59 L69.69,238.29 L69.68,239.00 L69.67,239.70 L69.66,240.41 L69.66,241.11 L69.65,241.82 L69.64,242.52 L69.63,243.23 L69.62,243.93 L69.62,244.64 L69.61,245.34 L69.60,246.05 L69.59,246.75 L69.59,247.46 L69.58,248.16 L69.57,248.87 L69.57,249.57 L69.56,250.28 L69.55,250.98 L69.55,251.69 L69.54,252.40 L69.53,253.10 L69.53,253.81 L69.52,254.51 L69.51,255.22 L69.51,255.92 L69.50,256.63 L69.50,257.33 L69.49,258.04 L69.48,258.74 L69.48,259.45 L69.47,260.15 L69.47,260.86 L69.46,261.56 L69.46,262.27 L69.45,262.97 L69.45,263.68 L69.44,264.38 L69.44,265.09 L69.43,265.79 L69.43,266.50 L69.42,267.20 L69.42,267.91 L69.41,268.61 L69.41,269.32 L69.40,270.02 L69.40,270.72 L69.40,271.43 L69.39,272.13 L69.39,272.84 L69.38,273.54 L69.38,274.24 L69.37,274.95 L69.37,275.65 L69.37,276.35 L69.36,277.06 L69.36,277.76 L69.35,278.46 L69.35,279.16 L69.35,279.87 L69.34,280.57 L69.34,281.27 L69.34,281.97 L69.33,282.67 L69.33,283.38 L69.32,284.08 L69.32,284.78 L69.32,285.48 L69.31,286.18 L69.31,286.88 L69.31,287.58 L69.30,288.28 L69.30,288.98 L69.30,289.68 L69.29,290.38 L69.29,291.08 L69.29,291.78 L69.28,292.48 L69.28,293.18 L69.28,293.88 L69.27,294.58 L69.27,295.27 L69.27,295.97 L69.26,296.67 L69.26,297.37 L69.25,298.06 L69.25,298.76 L69.25,299.46 L69.24,300.15 L69.24,300.85 L69.24,301.54 L69.23,302.24 L69.23,302.94 L69.23,303.63 L69.22,304.32 L69.22,305.02 L69.22,305.71 L69.21,306.41 L69.21,307.10 L69.20,307.79 Z" fill="#1E9C50" fill-opacity="0.72"/>
<path d="M68.03,307.84 L68.06,307.12 L68.10,306.41 L68.13,305.69 L68.16,304.97 L68.18,304.26 L68.21,303.54 L68.24,302.83 L68.27,302.11 L68.29,301.40 L68.32,300.68 L68.34,299.97 L68.36,299.26 L68.38,298.55 L68.41,297.83 L68.43,297.12 L68.45,296.41 L68.46,295.70 L68.48,294.99 L68.50,294.28 L68.52,293.57 L68.53,292.87 L68.55,292.16 L68.56,291.45 L68.58,290.74 L68.59,290.04 L68.60,289.33 L68.62,288.62 L68.63,287.92 L68.64,287.21 L68.65,286.51 L68.66,285.80 L68.67,285.10 L68.67,284.39 L68.68,283.69 L68.69,282.99 L68.70,282.28 L68.70,281.58 L68.71,280.88 L68.71,280.18 L68.72,279.47 L68.72,278.77 L68.73,278.07 L68.73,277.37 L68.73,276.67 L68.73,275.97 L68.74,275.27 L68.74,274.57 L68.74,273.87 L68.74,273.17 L68.74,272.47 L68.74,271.77 L68.74,271.07 L68.74,270.38 L68.74,269.68 L68.74,268.98 L68.74,268.28 L68.73,267.59 L68.73,266.89 L68.73,266.19 L68.73,265.49 L68.72,264.80 L68.72,264.10 L68.72,263.41 L68.71,262.71 L68.71,262.01 L68.70,261.32 L68.70,260.62 L68.70,259.93 L68.69,259.23 L68.69,258.54 L68.68,257.84 L68.68,257.15 L68.67,256.45 L68.67,255.76 L68.66,255.06 L68.66,254.37 L68.65,253.67 L68.64,252.98 L68.64,252.29 L68.63,251.59 L68.63,250.90 L68.62,250.20 L68.62,249.51 L68.61,248.82 L68.60,248.12 L68.60,247.43 L68.59,246.74 L68.59,246.04 L68.58,245.35 L68.58,244.65 L68.57,243.96 L68.57,243.27 L68.56,242.57 L68.56,241.88 L68.55,241.19 L68.55,240.49 L68.54,239.80 L68.54,239.11 L68.53,238.41 L68.53,237.72 L68.53,237.03 L68.52,236.33 L68.52,235.64 L68.52,234.95 L68.51,234.25 L68.51,233.56 L68.51,232.86 L68.51,232.17 L68.50,231.48 L68.50,230.78 L68.50,230.09 L68.50,229.39 L68.50,228.70 L68.50,228.01 L68.50,227.31 L68.50,226.62 L68.50,225.92 L68.50,225.23 L68.51,224.53 L68.51,223.84 L68.51,223.14 L68.51,222.44 L68.52,221.75 L68.52,221.05 L68.53,220.36 L68.53,219.66 L68.54,218.96 L68.54,218.27 L68.55,217.57 L68.56,216.87 L68.57,216.18 L68.57,215.48 L68.58,214.78 L68.59,214.08 L68.60,213.39 L68.61,212.69 L68.62,211.99 L68.64,211.29 L68.65,210.59 L68.66,209.89 L68.68,209.19 L68.69,208.49 L68.71,207.79 L68.72,207.09 L68.74,206.39 L68.75,205.69 L68.77,204.99 L68.79,204.29 L68.81,203.59 L68.83,202.89 L68.85,202.18 L68.87,201.48 L68.90,200.78 L68.92,200.07 L68.95,199.37 L68.97,198.67 L69.00,197.96 L69.02,197.26 L69.05,196.55 L69.08,195.85 L69.11,195.14 L69.14,194.43 L69.17,193.73 L69.20,193.02 L69.24,192.31 L69.27,191.61 L69.31,190.90 L69.34,190.19 L69.38,189.48 L69.42,188.77 L69.46,188.06 L69.50,187.35 L69.54,186.64 L69.58,185.93 L69.62,185.22 L69.67,184.51 L69.71,183.79 L69.76,183.08 L69.81,182.37 L69.86,181.65 L69.91,180.94 L69.96,180.22 L70.01,179.51 L70.06,178.79 L70.12,178.08 L70.17,177.36 L70.23,176.64 L70.29,175.92 L70.35,175.21 L70.41,174.49 L70.47,173.77 L70.53,173.05 L70.59,172.33 L70.66,171.61 L70.73,170.88 L70.79,170.16 L70.86,169.44 L70.93,168.72 L71.01,167.99 L71.08,167.27 L71.15,166.54 L71.23,165.82 L71.31,165.09 L71.39,164.36 L71.47,163.63 L71.55,162.91 L71.63,162.18 L71.72,161.45 L71.80,160.72 L71.89,159.99 L71.98,159.26 L72.07,158.52 L72.16,157.79 L72.26,157.06 L72.36,156.34 L72.46,155.63 L72.58,154.94 L72.71,154.26 L72.86,153.62 L73.02,153.00 L73.19,152.42 L73.39,151.88 L73.62,151.39 L73.87,150.95 L74.14,150.55 L74.45,150.22 L74.79,149.96 L75.16,149.76 L75.57,149.63 L76.01,149.58 L76.48,149.60 L76.97,149.69 L77.47,149.85 L77.98,150.07 L78.49,150.36 L78.99,150.71 L79.47,151.12 L79.94,151.57 L80.40,152.08 L80.84,152.63 L81.27,153.21 L81.69,153.83 L82.10,154.47 L82.51,155.13 L82.91,155.80 L83.31,156.48 L83.70,157.17 L84.10,157.85 L84.50,158.53 L84.90,159.20 L85.31,159.86 L85.71,160.52 L86.12,161.17 L86.53,161.82 L86.94,162.46 L87.35,163.09 L87.76,163.72 L88.17,164.34 L88.59,164.95 L89.01,165.56 L89.43,166.17 L89.85,166.77 L90.27,167.36 L90.70,167.95 L91.12,168.54 L91.55,169.11 L91.98,169.69 L92.41,170.26 L92.85,170.82 L93.28,171.38 L93.72,171.94 L94.16,172.49 L94.60,173.03 L95.04,173.58 L95.48,174.12 L95.93,174.65 L96.38,175.18 L96.83,175.71 L97.28,176.23 L97.73,176.75 L98.19,177.26 L98.64,177.77 L99.10,178.28 L99.56,178.79 L100.03,179.29 L100.49,179.79 L100.96,180.29 L101.42,180.78 L101.89,181.27 L102.37,181.76 L102.84,182.24 L103.31,182.72 L103.79,183.20 L104.27,183.68 L104.75,184.16 L105.24,184.63 L105.72,185.10 L106.21,185.57 L106.70,186.04 L107.19,186.50 L107.68,186.97 L108.18,187.43 L108.67,187.89 L109.17,188.35 L109.67,188.81 L110.18,189.27 L110.68,189.72 L111.19,190.18 L111.70,190.63 L112.21,191.08 L112.72,191.54 L113.24,191.99 L113.75,192.44 L114.27,192.89 L114.80,193.34 L115.32,193.79 L115.84,194.24 L116.37,194.69 L116.90,195.14 L117.43,195.59 L117.97,196.03 L118.50,196.48 L119.04,196.93 L119.58,197.37 L120.12,197.82 L120.66,198.26 L121.21,198.71 L121.75,199.15 L122.30,199.59 L122.85,200.03 L123.40,200.47 L123.96,200.91 L124.51,201.35 L125.07,201.79 L125.63,202.22 L126.19,202.66 L126.75,203.09 L127.31,203.53 L127.88,203.96 L128.44,204.39 L129.01,204.82 L129.58,205.25 L130.15,205.67 L130.72,206.10 L131.30,206.52 L131.87,206.95 L132.45,207.37 L133.03,207.79 L133.61,208.20 L134.19,208.62 L134.77,209.04 L135.36,209.45 L135.94,209.86 L136.53,210.27 L137.12,210.68 L137.71,211.09 L138.30,211.50 L138.89,211.90 L139.48,212.30 L140.07,212.70 L140.67,213.10 L141.27,213.50 L141.86,213.89 L142.46,214.28 L143.06,214.67 L143.66,215.06 L144.26,215.45 L144.87,215.83 L145.47,216.21 L146.07,216.59 L146.68,216.97 L147.29,217.35 L147.89,217.72 L148.50,218.09 L149.11,218.46 L149.72,218.82 L150.33,219.19 L150.94,219.55 L151.56,219.91 L152.17,220.27 L152.79,220.62 L153.40,220.97 L154.02,221.32 L154.63,221.67 L155.25,222.01 L155.87,222.36 L156.49,222.70 L157.11,223.03 L157.73,223.37 L158.35,223.70 L158.97,224.04 L159.60,224.36 L160.22,224.69 L160.85,225.02 L161.47,225.34 L162.10,225.66 L162.72,225.98 L163.35,226.29 L163.98,226.61 L164.61,226.92 L165.24,227.23 L165.87,227.53 L166.50,227.84 L167.13,228.14 L167.77,228.44 L168.40,228.74 L169.03,229.04 L169.67,229.33 L170.31,229.63 L170.94,229.92 L171.58,230.21 L172.22,230.49 L172.86,230.78 L173.49,231.06 L174.13,231.34 L174.78,231.62 L175.42,231.90 L176.06,232.17 L176.70,232.45 L177.34,232.72 L177.99,232.99 L178.63,233.25 L179.28,233.52 L179.92,233.78 L180.57,234.04 L181.22,234.31 L181.86,234.56 L182.51,234.82 L183.16,235.07 L183.81,235.33 L184.46,235.58 L185.11,235.83 L185.76,236.08 L186.42,236.32 L187.07,236.57 L187.72,236.81 L188.37,237.05 L189.03,237.29 L189.68,237.53 L190.34,237.76 L191.00,238.00 L191.65,238.23 L192.31,238.46 L192.97,238.69 L193.63,238.92 L194.28,239.14 L194.94,239.37 L195.60,239.59 L196.26,239.81 L196.92,240.03 L197.59,240.25 L198.25,240.47 L198.91,240.68 L199.57,240.89 L200.24,241.11 L200.90,241.32 L201.57,241.53 L202.23,241.73 L202.90,241.94 L203.56,242.15 L204.23,242.35 L204.90,242.55 L205.56,242.75 L206.23,242.95 L206.90,243.15 L207.57,243.35 L208.24,243.54 L208.91,243.74 L209.58,243.93 L210.25,244.12 L210.92,244.31 L211.59,244.50 L212.26,244.69 L212.93,244.88 L213.61,245.06 L214.28,245.24 L214.95,245.43 L215.63,245.61 L216.30,245.79 L216.98,245.97 L217.65,246.15 L218.33,246.32 L219.00,246.50 L219.68,246.67 L220.36,246.85 L221.03,247.02 L221.71,247.19 L222.39,247.36 L223.07,247.53 L223.75,247.70 L224.42,247.87 L225.10,248.03 L225.78,248.20 L226.46,248.36 L227.14,248.52 L227.82,248.69 L228.50,248.85 L229.19,249.01 L229.87,249.17 L230.55,249.32 L231.23,249.48 L231.91,249.64 L232.60,249.79 L233.28,249.95 L233.96,250.10 L234.65,250.25 L235.33,250.41 L236.02,250.56 L236.70,250.71 L237.38,250.86 L238.07,251.01 L238.75,251.15 L239.44,251.30 L240.13,251.45 L240.81,251.59 L241.50,251.74 L242.18,251.88 L242.87,252.02 L243.56,252.17 L244.25,252.31 L244.93,252.45 L245.62,252.59 L246.31,252.73 L247.00,252.87 L247.68,253.01 L248.37,253.15 L249.06,253.28 L249.75,253.42 L250.44,253.56 L251.13,253.69 L251.82,253.83 L252.51,253.96 L253.20,254.10 L253.89,254.23 L254.58,254.36 L255.27,254.49 L255.96,254.63 L256.65,254.76 L257.34,254.89 L258.03,255.02 L258.72,255.15 L259.41,255.28 L260.10,255.41 L260.80,255.54 L261.49,255.67 L262.18,255.79 L262.87,255.92 L263.56,256.05 L264.25,256.17 L264.95,256.30 L265.64,256.43 L266.33,256.55 L267.02,256.68 L267.71,256.80 L268.41,256.93 L269.10,257.05 L269.79,257.18 L270.49,257.30 L271.18,257.43 L271.87,257.55 L272.56,257.67 L273.26,257.80 L273.95,257.92 L274.64,258.04 L275.34,258.17 L276.03,258.29 L276.72,258.41 L277.41,258.54 L278.11,258.66 L278.80,258.78 L279.49,258.90 L280.19,259.02 L280.88,259.15 L281.57,259.27 L282.27,259.39 L282.96,259.51 L283.65,259.63 L284.34,259.76 L285.04,259.88 L285.73,260.00 L286.42,260.12 L287.12,260.25 L287.81,260.37 L288.50,260.49 L289.19,260.61 L289.89,260.73 L290.58,260.86 L291.27,260.98 L291.96,261.10 L292.66,261.23 L293.35,261.35 L294.04,261.47 L294.73,261.59 L295.43,261.72 L296.12,261.84 L296.81,261.97 L297.50,262.09 L298.19,262.21 L298.88,262.34 L299.58,262.46 L300.27,262.59 L300.96,262.72 L301.65,262.84 L302.34,262.97 L303.03,263.09 L303.72,263.22 L304.41,263.35 L305.10,263.48 L305.79,263.60 L306.48,263.73 L307.17,263.86 L307.86,263.99 L308.55,264.12 L309.24,264.25 L309.93,264.38 L310.62,264.51 L311.31,264.64 L312.00,264.77 L312.68,264.91 L313.37,265.04 L314.06,265.17 L314.75,265.31 L315.44,265.44 L316.12,265.58 L316.81,265.71 L317.50,265.85 L318.18,265.98 L318.87,266.12 L319.56,266.26 L320.24,266.40 L320.93,266.54 L321.61,266.68 L322.30,266.82 L322.98,266.96 L323.67,267.10 L324.35,267.24 L325.04,267.39 L325.72,267.53 L326.40,267.67 L327.09,267.82 L327.77,267.97 L328.45,268.11 L329.13,268.26 L329.82,268.41 L330.50,268.56" fill="none" stroke="#0A7A38" stroke-width="0.8" opacity="0.6"/>
</g>
<line x1="164" y1="139.2" x2="321" y2="139.2" stroke="#444" stroke-width="0.9"/>
<polygon points="325.5,139.2 319.5,136.9 319.5,141.5" fill="#444"/>
<line x1="205.3" y1="219.5" x2="205.3" y2="63" stroke="#444" stroke-width="0.9"/>
<polygon points="205.3,58.5 203,64.5 207.6,64.5" fill="#444"/>
<text x="212.3" y="63.6" class="sb" font-size="8.8" fill="#333" textLength="21.5" lengthAdjust="spacingAndGlyphs">Im <tspan font-style="italic">k</tspan></text>
<text x="214.5" y="76.8" class="sbi" font-size="8.5" fill="#3a3a3a">k</text>
<text x="222.5" y="76.8" class="sb" font-size="8.5" fill="#3a3a3a">:</text>
<text x="232.4" y="76.8" class="sb" font-size="8.2" fill="#3a3a3a" textLength="77.8" lengthAdjust="spacingAndGlyphs">eigenmomentum</text>
<text x="304.6" y="133.4" class="sb" font-size="8.8" fill="#333" textLength="20.5" lengthAdjust="spacingAndGlyphs">Re <tspan font-style="italic">k</tspan></text>
<line x1="208.8" y1="167" x2="208.8" y2="98" stroke="#E8303A" stroke-width="0.9" stroke-dasharray="2.2,1.8"/>
<polygon points="208.8,92.5 206.4,98.5 211.2,98.5" fill="#E8303A"/>
<path d="M272,188 Q250,170 217,167.5" fill="none" stroke="#E8303A" stroke-width="0.9" stroke-dasharray="2.2,1.8"/>
<polygon points="212.5,167.2 218.5,164.8 218.3,169.8" fill="#E8303A"/>
<text x="213.9" y="115.2" class="sr" font-size="11.6" fill="#E44E58" textLength="104.8" lengthAdjust="spacingAndGlyphs">Stronger attraction</text>
<circle cx="205.3" cy="85.4" r="6.4" fill="#20A050"/>
<circle cx="205.3" cy="171.2" r="6.4" fill="#F08030"/>
<circle cx="279.4" cy="192.6" r="6.4" fill="#4A90D8"/>
<circle cx="279.4" cy="192.6" r="3.2" fill="none" stroke="#3A7EC4" stroke-width="0.8" opacity="0.8"/>
<text x="161.2" y="90" class="sb" font-size="11" fill="#30A050" textLength="37" lengthAdjust="spacingAndGlyphs">Bound</text>
<text x="158.2" y="175" class="sb" font-size="11" fill="#F07830" textLength="41.2" lengthAdjust="spacingAndGlyphs">Virtual</text>
<text x="270.6" y="180" class="sb" font-size="11" fill="#4A90D0" textLength="54.4" lengthAdjust="spacingAndGlyphs">Resonant</text>
<rect x="67.2" y="44.3" width="30.4" height="14.2" fill="#F07832" fill-opacity="0.68" stroke="#F07832" stroke-opacity="0.68" stroke-width="0.9"/>
<line x1="67.2" y1="51.4" x2="97.6" y2="51.4" stroke="#D85A10" stroke-width="1.1" opacity="0.7" stroke-dasharray="2,2"/>
<rect x="67.2" y="60.9" width="30.4" height="14.2" fill="#3C84CA" fill-opacity="0.72" stroke="#3C84CA" stroke-opacity="0.72" stroke-width="0.9"/>
<line x1="67.2" y1="68.0" x2="97.6" y2="68.0" stroke="#1F6CB8" stroke-width="1.1" opacity="0.7" stroke-dasharray="5,2.5,1.5,2.5"/>
<rect x="67.2" y="78" width="30.4" height="14.2" fill="#1E9C50" fill-opacity="0.72" stroke="#1E9C50" stroke-opacity="0.72" stroke-width="0.9"/>
<line x1="67.2" y1="85.1" x2="97.6" y2="85.1" stroke="#0A7A38" stroke-width="1.1" opacity="0.7"/>
<text x="102.6" y="56" class="tl" textLength="38.3" lengthAdjust="spacingAndGlyphs">Virtual</text>
<text x="102.6" y="72.8" class="tl" textLength="58.3" lengthAdjust="spacingAndGlyphs">Resonant</text>
<text x="102.6" y="89.6" class="tl" textLength="38.3" lengthAdjust="spacingAndGlyphs">Bound</text>
<rect x="63.5" y="40.5" width="267.0" height="267.5" fill="none" stroke="#111" stroke-width="1.5"/>
<line x1="63.5" y1="254.50" x2="69.5" y2="254.50" stroke="#111" stroke-width="1.4"/>
<line x1="63.5" y1="201.00" x2="69.5" y2="201.00" stroke="#111" stroke-width="1.4"/>
<line x1="63.5" y1="147.50" x2="69.5" y2="147.50" stroke="#111" stroke-width="1.4"/>
<line x1="63.5" y1="94.00" x2="69.5" y2="94.00" stroke="#111" stroke-width="1.4"/>
<text x="55.7" y="259.20" class="tk" text-anchor="end">200</text>
<text x="55.7" y="205.70" class="tk" text-anchor="end">400</text>
<text x="55.7" y="152.20" class="tk" text-anchor="end">600</text>
<text x="55.7" y="98.70" class="tk" text-anchor="end">800</text>
<text x="55.7" y="45.20" class="tk" text-anchor="end">1000</text>
<text x="63.50" y="326.4" class="tk" text-anchor="middle">3975</text>
<line x1="116.90" y1="308.0" x2="116.90" y2="302.0" stroke="#111" stroke-width="1.4"/>
<text x="116.90" y="326.4" class="tk" text-anchor="middle">4005</text>
<line x1="170.30" y1="308.0" x2="170.30" y2="302.0" stroke="#111" stroke-width="1.4"/>
<text x="170.30" y="326.4" class="tk" text-anchor="middle">4035</text>
<line x1="223.70" y1="308.0" x2="223.70" y2="302.0" stroke="#111" stroke-width="1.4"/>
<text x="223.70" y="326.4" class="tk" text-anchor="middle">4065</text>
<line x1="277.10" y1="308.0" x2="277.10" y2="302.0" stroke="#111" stroke-width="1.4"/>
<text x="277.10" y="326.4" class="tk" text-anchor="middle">4095</text>
<text x="330.50" y="326.4" class="tk" text-anchor="middle">4125</text>
<path d="M169.8,348 L171.8,346.8 L174.2,353.6 L179,341.2 L188.8,341.2" fill="none" stroke="#222" stroke-width="1.25"/>
<text x="182.8" y="351" class="sbi" font-size="13.5" fill="#222">s</text>
<text x="196" y="352.4" class="tx">(MeV)</text>
<g transform="translate(16.3,214.5) rotate(-90)" font-size="13.5" fill="#222"><text x="0" y="0" font-style="italic">ρ</text><text x="7.2" y="0">(</text><text x="12" y="0" font-style="italic">k</text><text x="19.3" y="0">)</text><text x="23.8" y="0">·</text><text x="28.2" y="0">|</text><text x="33" y="0" font-style="italic">T</text><text x="41.5" y="0">(</text><path d="M46.3,-4.8 L48.5,-5.8 L52.5,0.8 L57.8,-11.2 L68.8,-11.2" fill="none" stroke="#222" stroke-width="1.05"/><text x="58.6" y="0">s</text><text x="65.8" y="0">)</text><text x="70.6" y="0">|</text><text x="74.5" y="-6" font-size="9">2</text></g>
<g clip-path="url(#clipR)">
<line x1="420.5" y1="254.5" x2="687.5" y2="254.5" stroke="#BDBDBD" stroke-width="1"/>
<path d="M420.49,173.42 L421.22,173.37 L421.95,173.32 L422.68,173.28 L423.41,173.25 L424.13,173.22 L424.86,173.19 L425.58,173.18 L426.30,173.16 L427.01,173.15 L427.73,173.15 L428.44,173.15 L429.16,173.16 L429.87,173.17 L430.58,173.18 L431.29,173.20 L431.99,173.22 L432.70,173.25 L433.40,173.28 L434.10,173.32 L434.81,173.35 L435.51,173.40 L436.21,173.44 L436.90,173.49 L437.60,173.55 L438.30,173.61 L438.99,173.67 L439.69,173.73 L440.38,173.80 L441.08,173.87 L441.77,173.94 L442.46,174.02 L443.15,174.10 L443.84,174.18 L444.53,174.26 L445.22,174.35 L445.91,174.44 L446.60,174.53 L447.28,174.62 L447.97,174.72 L448.66,174.81 L449.35,174.91 L450.03,175.01 L450.72,175.12 L451.41,175.22 L452.09,175.33 L452.78,175.43 L453.47,175.54 L454.15,175.65 L454.84,175.76 L455.53,175.88 L456.21,175.99 L456.90,176.10 L457.59,176.22 L458.28,176.33 L458.97,176.45 L459.66,176.57 L460.35,176.68 L461.04,176.80 L461.73,176.92 L462.42,177.03 L463.11,177.15 L463.80,177.27 L464.50,177.39 L465.19,177.50 L465.89,177.62 L466.59,177.74 L467.28,177.85 L467.98,177.97 L468.68,178.08 L469.38,178.19 L470.08,178.31 L470.79,178.42 L471.49,178.53 L472.19,178.65 L472.90,178.76 L473.60,178.87 L474.31,178.98 L475.01,179.10 L475.72,179.21 L476.43,179.33 L477.13,179.44 L477.84,179.56 L478.54,179.67 L479.25,179.79 L479.96,179.91 L480.66,180.03 L481.37,180.16 L482.07,180.28 L482.78,180.41 L483.48,180.53 L484.19,180.66 L484.89,180.79 L485.60,180.93 L486.30,181.06 L487.00,181.20 L487.70,181.34 L488.40,181.49 L489.10,181.63 L489.79,181.78 L490.49,181.94 L491.18,182.09 L491.88,182.25 L492.57,182.41 L493.26,182.58 L493.95,182.75 L494.63,182.92 L495.32,183.10 L496.00,183.28 L496.68,183.47 L497.36,183.66 L498.04,183.85 L498.72,184.05 L499.39,184.25 L500.06,184.46 L500.73,184.67 L501.40,184.89 L502.06,185.11 L502.72,185.34 L503.38,185.58 L504.04,185.81 L504.69,186.06 L505.34,186.31 L505.99,186.56 L506.64,186.83 L507.28,187.09 L507.92,187.37 L508.55,187.65 L509.18,187.93 L509.81,188.23 L510.44,188.53 L511.06,188.83 L511.68,189.15 L512.29,189.47 L512.91,189.79 L513.51,190.13 L514.12,190.47 L514.72,190.81 L515.31,191.17 L515.91,191.53 L516.49,191.89 L517.08,192.27 L517.66,192.65 L518.24,193.03 L518.81,193.43 L519.37,193.83 L519.94,194.24 L520.50,194.65 L521.05,195.07 L521.60,195.50 L522.14,195.94 L522.68,196.38 L523.22,196.83 L523.75,197.29 L524.27,197.75 L524.79,198.22 L525.31,198.70 L525.82,199.19 L526.33,199.68 L526.83,200.18 L527.32,200.69 L527.81,201.20 L528.29,201.72 L528.77,202.25 L529.24,202.79 L529.71,203.33 L530.17,203.88 L530.63,204.43 L531.08,204.99 L531.53,205.56 L531.98,206.13 L532.42,206.70 L532.86,207.27 L533.29,207.85 L533.73,208.42 L534.16,209.00 L534.59,209.57 L535.03,210.15 L535.46,210.71 L535.89,211.28 L536.32,211.84 L536.76,212.40 L537.19,212.95 L537.63,213.49 L538.07,214.03 L538.51,214.56 L538.95,215.08 L539.11,214.83 L538.46,214.44 L537.80,214.08 L537.15,213.73 L536.49,213.40 L535.83,213.09 L535.17,212.79 L534.50,212.51 L533.84,212.24 L533.17,211.99 L532.50,211.76 L531.83,211.54 L531.16,211.33 L530.48,211.14 L529.81,210.97 L529.13,210.80 L528.45,210.65 L527.77,210.51 L527.09,210.39 L526.41,210.27 L525.73,210.17 L525.04,210.08 L524.36,210.00 L523.67,209.94 L522.98,209.88 L522.30,209.83 L521.61,209.79 L520.92,209.76 L520.23,209.74 L519.53,209.73 L518.84,209.73 L518.15,209.74 L517.46,209.75 L516.76,209.77 L516.07,209.80 L515.38,209.83 L514.68,209.87 L513.99,209.92 L513.29,209.97 L512.60,210.03 L511.90,210.09 L511.21,210.16 L510.51,210.23 L509.82,210.31 L509.12,210.39 L508.43,210.47 L507.73,210.56 L507.04,210.65 L506.34,210.75 L505.65,210.84 L504.95,210.94 L504.26,211.05 L503.57,211.15 L502.87,211.26 L502.18,211.38 L501.48,211.49 L500.79,211.61 L500.10,211.73 L499.40,211.85 L498.71,211.98 L498.02,212.11 L497.32,212.24 L496.63,212.37 L495.94,212.50 L495.25,212.64 L494.55,212.78 L493.86,212.92 L493.17,213.06 L492.47,213.21 L491.78,213.36 L491.09,213.50 L490.40,213.65 L489.70,213.81 L489.01,213.96 L488.32,214.11 L487.63,214.27 L486.93,214.43 L486.24,214.58 L485.55,214.74 L484.86,214.90 L484.16,215.06 L483.47,215.23 L482.78,215.39 L482.08,215.55 L481.39,215.71 L480.70,215.88 L480.01,216.04 L479.31,216.21 L478.62,216.37 L477.93,216.54 L477.23,216.71 L476.54,216.87 L475.85,217.04 L475.16,217.20 L474.46,217.37 L473.77,217.53 L473.08,217.70 L472.38,217.86 L471.69,218.03 L470.99,218.19 L470.30,218.36 L469.61,218.52 L468.91,218.68 L468.22,218.84 L467.52,219.00 L466.83,219.16 L466.14,219.32 L465.44,219.48 L464.75,219.63 L464.05,219.79 L463.36,219.94 L462.66,220.09 L461.97,220.24 L461.27,220.39 L460.57,220.54 L459.88,220.68 L459.18,220.82 L458.49,220.97 L457.79,221.10 L457.09,221.24 L456.40,221.38 L455.70,221.51 L455.00,221.64 L454.30,221.77 L453.61,221.89 L452.91,222.02 L452.21,222.14 L451.51,222.26 L450.81,222.37 L450.12,222.49 L449.42,222.59 L448.72,222.70 L448.02,222.81 L447.32,222.91 L446.62,223.00 L445.92,223.10 L445.22,223.19 L444.52,223.28 L443.82,223.36 L443.12,223.44 L442.41,223.52 L441.71,223.59 L441.01,223.66 L440.31,223.72 L439.60,223.79 L438.90,223.84 L438.20,223.90 L437.49,223.94 L436.79,223.99 L436.09,224.03 L435.38,224.07 L434.68,224.10 L433.97,224.12 L433.27,224.15 L432.56,224.16 L431.85,224.18 L431.15,224.19 L430.44,224.19 L429.73,224.19 L429.03,224.18 L428.32,224.17 L427.61,224.15 L426.90,224.13 L426.19,224.10 L425.48,224.07 L424.77,224.03 L424.06,223.98 L423.35,223.93 L422.64,223.87 L421.93,223.81 L421.22,223.74 L420.50,223.67 Z" fill="#3C84CA" fill-opacity="0.72"/>
<path d="M420.59,188.80 L421.28,188.82 L421.97,188.85 L422.67,188.87 L423.36,188.89 L424.05,188.91 L424.75,188.93 L425.44,188.95 L426.14,188.97 L426.83,188.99 L427.53,189.01 L428.23,189.03 L428.92,189.04 L429.62,189.06 L430.32,189.08 L431.01,189.10 L431.71,189.12 L432.41,189.14 L433.11,189.15 L433.81,189.17 L434.51,189.19 L435.21,189.21 L435.91,189.23 L436.61,189.24 L437.31,189.26 L438.01,189.28 L438.71,189.30 L439.41,189.32 L440.11,189.34 L440.81,189.35 L441.52,189.37 L442.22,189.39 L442.92,189.41 L443.63,189.43 L444.33,189.45 L445.03,189.47 L445.74,189.49 L446.44,189.51 L447.15,189.53 L447.85,189.55 L448.56,189.57 L449.26,189.59 L449.97,189.61 L450.68,189.63 L451.38,189.65 L452.09,189.67 L452.80,189.70 L453.50,189.72 L454.21,189.74 L454.92,189.77 L455.63,189.79 L456.34,189.82 L457.05,189.84 L457.75,189.87 L458.46,189.89 L459.17,189.92 L459.88,189.95 L460.59,189.97 L461.30,190.00 L462.01,190.03 L462.73,190.06 L463.44,190.09 L464.15,190.12 L464.86,190.15 L465.57,190.19 L466.28,190.22 L467.00,190.25 L467.71,190.29 L468.42,190.32 L469.14,190.36 L469.85,190.39 L470.56,190.43 L471.28,190.47 L471.99,190.51 L472.71,190.55 L473.42,190.59 L474.14,190.63 L474.85,190.67 L475.57,190.71 L476.28,190.76 L477.00,190.80 L477.71,190.85 L478.43,190.89 L479.15,190.94 L479.86,190.99 L480.58,191.04 L481.30,191.09 L482.01,191.14 L482.73,191.19 L483.45,191.25 L484.17,191.30 L484.89,191.36 L485.60,191.42 L486.32,191.47 L487.04,191.53 L487.76,191.59 L488.48,191.66 L489.20,191.72 L489.92,191.78 L490.64,191.85 L491.36,191.92 L492.08,191.98 L492.80,192.05 L493.52,192.12 L494.24,192.20 L494.96,192.27 L495.68,192.35 L496.39,192.43 L497.11,192.51 L497.83,192.60 L498.54,192.69 L499.26,192.78 L499.97,192.87 L500.68,192.97 L501.39,193.07 L502.10,193.18 L502.81,193.29 L503.51,193.40 L504.22,193.52 L504.92,193.64 L505.62,193.76 L506.32,193.89 L507.01,194.03 L507.70,194.17 L508.39,194.31 L509.08,194.46 L509.77,194.62 L510.45,194.78 L511.13,194.95 L511.80,195.12 L512.48,195.30 L513.15,195.49 L513.81,195.68 L514.47,195.87 L515.13,196.08 L515.79,196.29 L516.44,196.51 L517.09,196.74 L517.73,196.97 L518.37,197.21 L519.01,197.46 L519.64,197.71 L520.26,197.98 L520.88,198.25 L521.50,198.53 L522.11,198.82 L522.72,199.11 L523.32,199.42 L523.92,199.73 L524.51,200.06 L525.10,200.39 L525.68,200.73 L526.25,201.08 L526.82,201.44 L527.38,201.82 L527.94,202.20 L528.49,202.59 L529.04,202.99 L529.58,203.40 L530.11,203.82 L530.63,204.26 L531.15,204.70 L531.67,205.16 L532.17,205.62 L532.67,206.10 L533.16,206.59 L533.65,207.09 L534.13,207.60 L534.60,208.13 L535.06,208.67 L535.51,209.22 L535.96,209.78 L536.40,210.35 L536.83,210.94 L537.25,211.54 L537.67,212.16 L538.08,212.78 L538.47,213.42 L538.86,214.08 L539.25,214.75" fill="none" stroke="#1F6CB8" stroke-width="1.1" stroke-dasharray="6,3,1.5,3"/>
<path d="M539.02,215.25 L539.45,215.71 L539.88,216.18 L540.31,216.66 L540.73,217.15 L541.15,217.65 L541.57,218.15 L541.98,218.66 L542.39,219.18 L542.80,219.70 L543.21,220.24 L543.62,220.77 L544.02,221.32 L544.42,221.87 L544.82,222.43 L545.22,222.99 L545.61,223.56 L546.01,224.13 L546.40,224.71 L546.79,225.29 L547.19,225.87 L547.58,226.47 L547.96,227.06 L548.35,227.66 L548.74,228.26 L549.13,228.86 L549.51,229.47 L549.90,230.08 L550.29,230.69 L550.67,231.31 L551.06,231.92 L551.44,232.54 L551.83,233.16 L552.22,233.78 L552.61,234.40 L552.99,235.02 L553.38,235.64 L553.77,236.26 L554.16,236.88 L554.55,237.50 L554.95,238.12 L555.34,238.74 L555.74,239.36 L556.13,239.98 L556.53,240.59 L556.93,241.21 L557.34,241.82 L557.74,242.43 L558.15,243.03 L558.56,243.64 L558.97,244.24 L559.38,244.83 L559.80,245.43 L560.22,246.01 L560.64,246.60 L561.07,247.18 L561.50,247.75 L561.93,248.33 L562.36,248.89 L562.80,249.45 L563.24,250.01 L563.69,250.55 L564.14,251.10 L564.59,251.63 L565.05,252.16 L565.51,252.68 L565.98,253.20 L566.45,253.71 L566.92,254.21 L567.40,254.70 L567.88,255.18 L568.37,255.66 L568.87,256.12 L569.37,256.58 L569.87,257.03 L570.38,257.47 L570.89,257.90 L571.41,258.32 L571.94,258.73 L572.47,259.13 L573.01,259.52 L573.55,259.90 L574.10,260.26 L574.66,260.62 L575.22,260.96 L575.79,261.29 L576.37,261.61 L576.95,261.92 L577.54,262.21 L578.13,262.49 L578.74,262.76 L579.35,263.02 L579.96,263.26 L580.59,263.49 L581.22,263.71 L581.85,263.92 L582.49,264.11 L583.14,264.30 L583.79,264.47 L584.45,264.63 L585.12,264.78 L585.78,264.92 L586.46,265.06 L587.14,265.18 L587.82,265.29 L588.50,265.39 L589.20,265.49 L589.89,265.57 L590.59,265.65 L591.29,265.72 L592.00,265.78 L592.71,265.83 L593.42,265.88 L594.14,265.92 L594.85,265.95 L595.57,265.98 L596.30,265.99 L597.02,266.01 L597.75,266.01 L598.48,266.02 L599.21,266.01 L599.94,266.00 L600.68,265.99 L601.41,265.97 L602.15,265.95 L602.88,265.92 L603.62,265.89 L604.36,265.85 L605.10,265.81 L605.83,265.77 L606.57,265.73 L607.31,265.68 L608.05,265.63 L608.78,265.58 L609.52,265.53 L610.25,265.48 L610.99,265.42 L611.72,265.36 L612.45,265.31 L613.18,265.25 L613.91,265.19 L614.63,265.13 L615.35,265.08 L616.08,265.02 L616.79,264.96 L617.51,264.91 L618.22,264.85 L618.94,264.79 L619.65,264.74 L620.35,264.69 L621.06,264.63 L621.77,264.58 L622.47,264.53 L623.17,264.47 L623.87,264.42 L624.57,264.37 L625.27,264.32 L625.97,264.27 L626.66,264.22 L627.36,264.17 L628.05,264.13 L628.74,264.08 L629.43,264.03 L630.13,263.99 L630.82,263.95 L631.51,263.90 L632.20,263.86 L632.89,263.82 L633.58,263.78 L634.26,263.73 L634.95,263.69 L635.64,263.66 L636.33,263.62 L637.02,263.58 L637.71,263.55 L638.40,263.51 L639.09,263.48 L639.78,263.44 L640.47,263.41 L641.16,263.38 L641.86,263.35 L642.55,263.32 L643.24,263.29 L643.94,263.26 L644.63,263.23 L645.33,263.21 L646.03,263.18 L646.72,263.16 L647.42,263.13 L648.12,263.11 L648.81,263.09 L649.51,263.06 L650.21,263.04 L650.91,263.02 L651.61,263.00 L652.31,262.98 L653.01,262.96 L653.71,262.94 L654.41,262.92 L655.11,262.90 L655.81,262.88 L656.52,262.86 L657.22,262.84 L657.92,262.82 L658.62,262.81 L659.33,262.79 L660.03,262.77 L660.73,262.75 L661.44,262.73 L662.14,262.72 L662.85,262.70 L663.55,262.68 L664.26,262.66 L664.96,262.64 L665.67,262.63 L666.37,262.61 L667.08,262.59 L667.78,262.57 L668.49,262.55 L669.19,262.53 L669.90,262.51 L670.60,262.49 L671.31,262.47 L672.01,262.45 L672.72,262.42 L673.42,262.40 L674.13,262.38 L674.84,262.36 L675.54,262.33 L676.25,262.31 L676.95,262.28 L677.66,262.25 L678.36,262.23 L679.07,262.20 L679.77,262.17 L680.48,262.14 L681.18,262.11 L681.89,262.08 L682.59,262.05 L683.29,262.02 L684.00,261.98 L684.70,261.95 L685.40,261.91 L686.11,261.87 L686.81,261.84 L687.51,261.80" fill="none" stroke="#3C84CA" stroke-width="1.6" stroke-opacity="0.72"/>
<path d="M420.39,298.46 L421.10,298.62 L421.82,298.78 L422.53,298.93 L423.24,299.08 L423.95,299.23 L424.67,299.37 L425.38,299.50 L426.09,299.64 L426.80,299.76 L427.51,299.89 L428.22,300.01 L428.93,300.13 L429.64,300.24 L430.35,300.35 L431.06,300.46 L431.77,300.56 L432.48,300.65 L433.19,300.75 L433.90,300.84 L434.61,300.92 L435.32,301.01 L436.02,301.09 L436.73,301.16 L437.44,301.23 L438.15,301.30 L438.85,301.36 L439.56,301.42 L440.26,301.48 L440.97,301.53 L441.68,301.58 L442.38,301.62 L443.09,301.66 L443.79,301.70 L444.49,301.73 L445.20,301.76 L445.90,301.79 L446.60,301.81 L447.31,301.83 L448.01,301.84 L448.71,301.85 L449.41,301.86 L450.11,301.86 L450.81,301.86 L451.51,301.86 L452.21,301.85 L452.91,301.84 L453.61,301.82 L454.31,301.80 L455.01,301.78 L455.71,301.75 L456.40,301.72 L457.10,301.69 L457.80,301.65 L458.49,301.61 L459.19,301.57 L459.88,301.52 L460.58,301.47 L461.27,301.42 L461.96,301.36 L462.66,301.30 L463.35,301.23 L464.04,301.16 L464.73,301.09 L465.42,301.01 L466.11,300.93 L466.80,300.85 L467.49,300.76 L468.18,300.67 L468.87,300.58 L469.55,300.48 L470.24,300.38 L470.92,300.27 L471.61,300.17 L472.29,300.06 L472.98,299.94 L473.66,299.82 L474.35,299.70 L475.03,299.58 L475.71,299.45 L476.39,299.31 L477.07,299.18 L477.75,299.04 L478.43,298.90 L479.11,298.75 L479.79,298.60 L480.46,298.45 L481.14,298.29 L481.81,298.13 L482.49,297.97 L483.16,297.81 L483.84,297.64 L484.51,297.46 L485.18,297.29 L485.85,297.11 L486.52,296.93 L487.19,296.74 L487.86,296.55 L488.53,296.36 L489.20,296.17 L489.87,295.97 L490.54,295.77 L491.20,295.57 L491.87,295.37 L492.54,295.16 L493.20,294.95 L493.87,294.74 L494.53,294.53 L495.20,294.31 L495.86,294.09 L496.52,293.87 L497.18,293.65 L497.85,293.42 L498.51,293.20 L499.17,292.97 L499.83,292.74 L500.49,292.50 L501.15,292.27 L501.81,292.03 L502.47,291.79 L503.13,291.55 L503.79,291.31 L504.45,291.07 L505.11,290.83 L505.76,290.58 L506.42,290.33 L507.08,290.09 L507.74,289.84 L508.39,289.59 L509.05,289.33 L509.71,289.08 L510.37,288.83 L511.02,288.57 L511.68,288.32 L512.33,288.06 L512.99,287.80 L513.65,287.55 L514.30,287.29 L514.96,287.03 L515.61,286.77 L516.27,286.51 L516.93,286.25 L517.58,285.99 L518.24,285.73 L518.89,285.47 L519.55,285.21 L520.20,284.94 L520.86,284.68 L521.51,284.42 L522.17,284.16 L522.83,283.90 L523.48,283.64 L524.14,283.38 L524.79,283.11 L525.45,282.85 L526.11,282.59 L526.76,282.33 L527.42,282.08 L528.08,281.82 L528.73,281.56 L529.39,281.30 L530.05,281.05 L530.70,280.79 L531.36,280.53 L532.02,280.28 L532.68,280.03 L533.34,279.78 L534.00,279.52 L534.65,279.27 L535.31,279.03 L535.97,278.78 L536.63,278.53 L537.29,278.29 L537.95,278.04 L538.62,277.80 L539.28,277.56 L539.94,277.32 L540.60,277.09 L541.26,276.85 L541.93,276.62 L542.59,276.39 L543.25,276.16 L543.92,275.93 L544.58,275.70 L545.25,275.48 L545.91,275.26 L546.58,275.04 L547.25,274.82 L547.92,274.61 L548.58,274.39 L549.25,274.18 L549.92,273.97 L550.59,273.77 L551.26,273.56 L551.93,273.36 L552.60,273.16 L553.27,272.96 L553.95,272.77 L554.62,272.58 L555.29,272.38 L555.97,272.20 L556.64,272.01 L557.31,271.82 L557.99,271.64 L558.66,271.46 L559.34,271.28 L560.02,271.10 L560.69,270.93 L561.37,270.75 L562.05,270.58 L562.73,270.41 L563.41,270.25 L564.09,270.08 L564.76,269.92 L565.44,269.76 L566.13,269.60 L566.81,269.44 L567.49,269.28 L568.17,269.13 L568.85,268.97 L569.53,268.82 L570.22,268.68 L570.90,268.53 L571.58,268.38 L572.27,268.24 L572.95,268.10 L573.64,267.96 L574.32,267.82 L575.01,267.68 L575.69,267.55 L576.38,267.41 L577.07,267.28 L577.75,267.15 L578.44,267.02 L579.13,266.89 L579.82,266.77 L580.51,266.64 L581.19,266.52 L581.88,266.40 L582.57,266.28 L583.26,266.16 L583.95,266.05 L584.64,265.93 L585.33,265.82 L586.02,265.71 L586.72,265.59 L587.41,265.49 L588.10,265.38 L588.79,265.27 L589.48,265.17 L590.18,265.06 L590.87,264.96 L591.56,264.86 L592.26,264.76 L592.95,264.66 L593.65,264.56 L594.34,264.47 L595.03,264.37 L595.73,264.28 L596.43,264.19 L597.12,264.10 L597.82,264.01 L598.51,263.92 L599.21,263.83 L599.91,263.74 L600.60,263.66 L601.30,263.58 L602.00,263.49 L602.69,263.41 L603.39,263.33 L604.09,263.25 L604.79,263.17 L605.48,263.09 L606.18,263.02 L606.88,262.94 L607.58,262.87 L608.28,262.79 L608.98,262.72 L609.68,262.65 L610.38,262.58 L611.08,262.51 L611.78,262.44 L612.48,262.37 L613.18,262.31 L613.88,262.24 L614.58,262.18 L615.28,262.11 L615.98,262.05 L616.68,261.99 L617.38,261.92 L618.08,261.86 L618.78,261.80 L619.48,261.74 L620.19,261.68 L620.89,261.63 L621.59,261.57 L622.29,261.51 L622.99,261.46 L623.69,261.40 L624.40,261.35 L625.10,261.29 L625.80,261.24 L626.50,261.18 L627.21,261.13 L627.91,261.08 L628.61,261.03 L629.31,260.98 L630.02,260.93 L630.72,260.88 L631.42,260.83 L632.13,260.78 L632.83,260.74 L633.53,260.69 L634.23,260.64 L634.94,260.59 L635.64,260.55 L636.34,260.50 L637.05,260.46 L637.75,260.41 L638.45,260.37 L639.16,260.32 L639.86,260.28 L640.56,260.24 L641.27,260.19 L641.97,260.15 L642.67,260.11 L643.38,260.07 L644.08,260.02 L644.78,259.98 L645.48,259.94 L646.19,259.90 L646.89,259.86 L647.59,259.82 L648.30,259.78 L649.00,259.74 L649.70,259.70 L650.41,259.66 L651.11,259.61 L651.81,259.57 L652.51,259.53 L653.22,259.49 L653.92,259.45 L654.62,259.42 L655.32,259.38 L656.03,259.34 L656.73,259.30 L657.43,259.26 L658.13,259.22 L658.83,259.18 L659.54,259.14 L660.24,259.10 L660.94,259.06 L661.64,259.02 L662.34,258.98 L663.04,258.94 L663.74,258.89 L664.44,258.85 L665.15,258.81 L665.85,258.77 L666.55,258.73 L667.25,258.69 L667.95,258.65 L668.65,258.61 L669.35,258.56 L670.05,258.52 L670.75,258.48 L671.45,258.43 L672.14,258.39 L672.84,258.35 L673.54,258.30 L674.24,258.26 L674.94,258.21 L675.64,258.17 L676.34,258.12 L677.03,258.08 L677.73,258.03 L678.43,257.98 L679.13,257.94 L679.82,257.89 L680.52,257.84 L681.22,257.79 L681.91,257.74 L682.61,257.69 L683.31,257.64 L684.00,257.59 L684.70,257.54 L685.39,257.49 L686.09,257.44 L686.78,257.38 L687.48,257.33 L687.50,260.83 L686.79,260.85 L686.09,260.87 L685.39,260.90 L684.68,260.92 L683.98,260.95 L683.28,260.97 L682.57,261.00 L681.87,261.03 L681.16,261.05 L680.46,261.08 L679.76,261.11 L679.06,261.14 L678.35,261.17 L677.65,261.20 L676.95,261.23 L676.24,261.26 L675.54,261.29 L674.84,261.33 L674.14,261.36 L673.43,261.39 L672.73,261.43 L672.03,261.46 L671.33,261.50 L670.62,261.54 L669.92,261.57 L669.22,261.61 L668.52,261.65 L667.82,261.69 L667.11,261.72 L666.41,261.76 L665.71,261.80 L665.01,261.84 L664.31,261.88 L663.60,261.93 L662.90,261.97 L662.20,262.01 L661.50,262.05 L660.80,262.10 L660.10,262.14 L659.40,262.19 L658.69,262.23 L657.99,262.28 L657.29,262.33 L656.59,262.37 L655.89,262.42 L655.19,262.47 L654.49,262.52 L653.79,262.57 L653.08,262.62 L652.38,262.67 L651.68,262.72 L650.98,262.77 L650.28,262.82 L649.58,262.87 L648.88,262.92 L648.18,262.98 L647.48,263.03 L646.78,263.08 L646.08,263.14 L645.38,263.19 L644.68,263.25 L643.97,263.31 L643.27,263.36 L642.57,263.42 L641.87,263.48 L641.17,263.54 L640.47,263.59 L639.77,263.65 L639.07,263.71 L638.37,263.77 L637.67,263.83 L636.97,263.89 L636.27,263.96 L635.57,264.02 L634.87,264.08 L634.17,264.14 L633.47,264.21 L632.77,264.27 L632.07,264.34 L631.37,264.40 L630.67,264.47 L629.97,264.53 L629.27,264.60 L628.57,264.66 L627.87,264.73 L627.17,264.80 L626.46,264.87 L625.76,264.93 L625.06,265.00 L624.36,265.07 L623.66,265.14 L622.96,265.21 L622.26,265.28 L621.56,265.35 L620.86,265.43 L620.16,265.50 L619.46,265.57 L618.76,265.64 L618.06,265.72 L617.36,265.79 L616.66,265.86 L615.96,265.94 L615.26,266.01 L614.56,266.09 L613.86,266.16 L613.16,266.24 L612.46,266.32 L611.75,266.39 L611.05,266.47 L610.35,266.55 L609.65,266.63 L608.95,266.71 L608.25,266.79 L607.55,266.87 L606.85,266.95 L606.15,267.03 L605.45,267.11 L604.75,267.20 L604.05,267.28 L603.35,267.37 L602.65,267.45 L601.95,267.54 L601.25,267.62 L600.55,267.71 L599.85,267.80 L599.15,267.89 L598.45,267.98 L597.76,268.07 L597.06,268.17 L596.36,268.26 L595.66,268.35 L594.96,268.45 L594.26,268.55 L593.57,268.64 L592.87,268.74 L592.17,268.84 L591.47,268.94 L590.78,269.05 L590.08,269.15 L589.38,269.25 L588.69,269.36 L587.99,269.47 L587.30,269.58 L586.60,269.68 L585.91,269.80 L585.21,269.91 L584.52,270.02 L583.82,270.14 L583.13,270.25 L582.43,270.37 L581.74,270.49 L581.05,270.61 L580.35,270.73 L579.66,270.86 L578.97,270.98 L578.28,271.11 L577.59,271.24 L576.90,271.37 L576.21,271.50 L575.52,271.63 L574.83,271.77 L574.14,271.90 L573.45,272.04 L572.76,272.18 L572.07,272.32 L571.38,272.47 L570.70,272.61 L570.01,272.76 L569.32,272.91 L568.64,273.06 L567.95,273.21 L567.27,273.36 L566.58,273.52 L565.90,273.68 L565.22,273.84 L564.53,274.00 L563.85,274.17 L563.17,274.33 L562.49,274.50 L561.81,274.67 L561.13,274.84 L560.45,275.02 L559.77,275.20 L559.09,275.37 L558.41,275.56 L557.74,275.74 L557.06,275.92 L556.38,276.11 L555.71,276.30 L555.03,276.50 L554.36,276.69 L553.68,276.89 L553.01,277.09 L552.34,277.29 L551.67,277.49 L551.00,277.70 L550.33,277.91 L549.66,278.12 L548.99,278.33 L548.32,278.55 L547.65,278.77 L546.98,278.99 L546.32,279.22 L545.65,279.44 L544.99,279.67 L544.32,279.90 L543.66,280.14 L543.00,280.37 L542.33,280.61 L541.67,280.85 L541.01,281.10 L540.35,281.34 L539.69,281.59 L539.03,281.84 L538.37,282.09 L537.71,282.34 L537.06,282.59 L536.40,282.85 L535.74,283.11 L535.09,283.37 L534.43,283.63 L533.77,283.89 L533.12,284.15 L532.46,284.42 L531.81,284.68 L531.16,284.95 L530.50,285.22 L529.85,285.49 L529.19,285.76 L528.54,286.03 L527.89,286.30 L527.24,286.57 L526.58,286.84 L525.93,287.12 L525.28,287.39 L524.63,287.67 L523.98,287.94 L523.33,288.22 L522.68,288.49 L522.02,288.77 L521.37,289.05 L520.72,289.32 L520.07,289.60 L519.42,289.88 L518.77,290.15 L518.12,290.43 L517.47,290.70 L516.82,290.98 L516.17,291.26 L515.52,291.53 L514.87,291.81 L514.22,292.08 L513.57,292.36 L512.91,292.63 L512.26,292.90 L511.61,293.17 L510.96,293.44 L510.31,293.71 L509.66,293.98 L509.01,294.25 L508.35,294.52 L507.70,294.79 L507.05,295.05 L506.39,295.31 L505.74,295.58 L505.09,295.84 L504.43,296.10 L503.78,296.35 L503.13,296.61 L502.47,296.87 L501.82,297.12 L501.16,297.37 L500.50,297.62 L499.85,297.87 L499.19,298.11 L498.53,298.36 L497.88,298.60 L497.22,298.84 L496.56,299.07 L495.90,299.31 L495.24,299.54 L494.58,299.77 L493.92,300.00 L493.26,300.23 L492.59,300.45 L491.93,300.67 L491.27,300.89 L490.60,301.10 L489.94,301.31 L489.27,301.52 L488.61,301.73 L487.94,301.93 L487.27,302.13 L486.60,302.33 L485.94,302.52 L485.27,302.71 L484.60,302.90 L483.92,303.08 L483.25,303.26 L482.58,303.44 L481.90,303.61 L481.23,303.78 L480.55,303.94 L479.88,304.11 L479.20,304.26 L478.52,304.42 L477.84,304.57 L477.16,304.72 L476.48,304.86 L475.80,305.00 L475.12,305.14 L474.44,305.27 L473.75,305.40 L473.07,305.53 L472.38,305.65 L471.70,305.77 L471.01,305.88 L470.32,305.99 L469.63,306.10 L468.95,306.21 L468.26,306.31 L467.57,306.41 L466.88,306.50 L466.19,306.59 L465.49,306.68 L464.80,306.76 L464.11,306.84 L463.41,306.91 L462.72,306.99 L462.03,307.06 L461.33,307.12 L460.63,307.18 L459.94,307.24 L459.24,307.30 L458.54,307.35 L457.85,307.40 L457.15,307.44 L456.45,307.48 L455.75,307.52 L455.05,307.56 L454.35,307.59 L453.65,307.61 L452.95,307.64 L452.25,307.66 L451.54,307.67 L450.84,307.69 L450.14,307.70 L449.44,307.71 L448.73,307.71 L448.03,307.71 L447.33,307.70 L446.62,307.70 L445.92,307.69 L445.21,307.67 L444.51,307.66 L443.80,307.64 L443.10,307.61 L442.39,307.58 L441.68,307.55 L440.98,307.52 L440.27,307.48 L439.56,307.44 L438.86,307.40 L438.15,307.35 L437.44,307.30 L436.73,307.24 L436.03,307.19 L435.32,307.12 L434.61,307.06 L433.90,306.99 L433.19,306.92 L432.49,306.85 L431.78,306.77 L431.07,306.69 L430.36,306.60 L429.65,306.52 L428.94,306.42 L428.23,306.33 L427.53,306.23 L426.82,306.13 L426.11,306.03 L425.40,305.92 L424.69,305.81 L423.98,305.70 L423.27,305.58 L422.56,305.46 L421.86,305.33 L421.15,305.21 L420.44,305.08 Z" fill="#1E9C50" fill-opacity="0.72"/>
<path d="M420.44,301.83 L421.14,301.97 L421.85,302.10 L422.56,302.23 L423.27,302.36 L423.98,302.48 L424.68,302.60 L425.39,302.72 L426.10,302.83 L426.81,302.94 L427.51,303.05 L428.22,303.15 L428.93,303.25 L429.64,303.35 L430.35,303.44 L431.05,303.53 L431.76,303.62 L432.47,303.70 L433.18,303.78 L433.88,303.86 L434.59,303.93 L435.30,304.00 L436.00,304.07 L436.71,304.13 L437.42,304.19 L438.12,304.25 L438.83,304.30 L439.54,304.35 L440.24,304.40 L440.95,304.44 L441.65,304.48 L442.36,304.52 L443.06,304.55 L443.77,304.58 L444.47,304.61 L445.18,304.63 L445.88,304.65 L446.58,304.66 L447.29,304.68 L447.99,304.68 L448.69,304.69 L449.39,304.69 L450.10,304.69 L450.80,304.69 L451.50,304.68 L452.20,304.67 L452.90,304.65 L453.60,304.63 L454.30,304.61 L455.00,304.58 L455.70,304.56 L456.40,304.52 L457.10,304.49 L457.79,304.45 L458.49,304.41 L459.19,304.36 L459.88,304.31 L460.58,304.26 L461.28,304.20 L461.97,304.14 L462.66,304.08 L463.36,304.01 L464.05,303.94 L464.74,303.87 L465.44,303.79 L466.13,303.71 L466.82,303.62 L467.51,303.54 L468.20,303.45 L468.89,303.35 L469.58,303.25 L470.27,303.15 L470.95,303.05 L471.64,302.94 L472.33,302.82 L473.01,302.71 L473.70,302.59 L474.38,302.47 L475.07,302.34 L475.75,302.21 L476.43,302.08 L477.11,301.94 L477.79,301.80 L478.47,301.66 L479.15,301.51 L479.83,301.36 L480.51,301.20 L481.19,301.05 L481.86,300.88 L482.54,300.72 L483.21,300.55 L483.89,300.38 L484.56,300.20 L485.23,300.02 L485.90,299.84 L486.57,299.66 L487.24,299.47 L487.91,299.28 L488.58,299.08 L489.25,298.89 L489.92,298.69 L490.58,298.48 L491.25,298.28 L491.92,298.07 L492.58,297.86 L493.25,297.64 L493.91,297.43 L494.57,297.21 L495.24,296.99 L495.90,296.76 L496.56,296.54 L497.22,296.31 L497.88,296.08 L498.54,295.84 L499.20,295.61 L499.86,295.37 L500.52,295.13 L501.18,294.89 L501.84,294.65 L502.50,294.41 L503.16,294.16 L503.81,293.91 L504.47,293.66 L505.13,293.41 L505.78,293.16 L506.44,292.91 L507.09,292.65 L507.75,292.40 L508.40,292.14 L509.06,291.88 L509.71,291.62 L510.37,291.36 L511.02,291.10 L511.68,290.84 L512.33,290.57 L512.99,290.31 L513.64,290.04 L514.29,289.78 L514.95,289.51 L515.60,289.25 L516.25,288.98 L516.91,288.71 L517.56,288.44 L518.21,288.17 L518.87,287.91 L519.52,287.64 L520.17,287.37 L520.83,287.10 L521.48,286.83 L522.13,286.56 L522.79,286.29 L523.44,286.02 L524.09,285.75 L524.75,285.48 L525.40,285.22 L526.05,284.95 L526.71,284.68 L527.36,284.41 L528.02,284.15 L528.67,283.88 L529.33,283.62 L529.98,283.35 L530.64,283.09 L531.29,282.83 L531.95,282.57 L532.60,282.31 L533.26,282.05 L533.92,281.79 L534.57,281.53 L535.23,281.27 L535.89,281.02 L536.55,280.77 L537.21,280.52 L537.86,280.26 L538.52,280.02 L539.18,279.77 L539.84,279.52 L540.50,279.28 L541.16,279.04 L541.83,278.80 L542.49,278.56 L543.15,278.32 L543.81,278.09 L544.48,277.85 L545.14,277.62 L545.80,277.40 L546.47,277.17 L547.14,276.95 L547.80,276.73 L548.47,276.51 L549.14,276.29 L549.80,276.08 L550.47,275.86 L551.14,275.66 L551.81,275.45 L552.48,275.24 L553.15,275.04 L553.82,274.84 L554.50,274.64 L555.17,274.44 L555.84,274.25 L556.52,274.06 L557.19,273.87 L557.86,273.68 L558.54,273.49 L559.21,273.31 L559.89,273.13 L560.57,272.95 L561.24,272.77 L561.92,272.60 L562.60,272.42 L563.28,272.25 L563.96,272.08 L564.64,271.91 L565.32,271.75 L566.00,271.58 L566.68,271.42 L567.36,271.26 L568.04,271.10 L568.73,270.95 L569.41,270.79 L570.09,270.64 L570.77,270.49 L571.46,270.34 L572.14,270.20 L572.83,270.05 L573.51,269.91 L574.20,269.77 L574.89,269.63 L575.57,269.49 L576.26,269.35 L576.95,269.22 L577.63,269.08 L578.32,268.95 L579.01,268.82 L579.70,268.69 L580.39,268.57 L581.08,268.44 L581.77,268.32 L582.46,268.20 L583.15,268.08 L583.84,267.96 L584.53,267.84 L585.23,267.72 L585.92,267.61 L586.61,267.50 L587.30,267.38 L588.00,267.27 L588.69,267.17 L589.38,267.06 L590.08,266.95 L590.77,266.85 L591.47,266.75 L592.16,266.64 L592.86,266.54 L593.55,266.45 L594.25,266.35 L594.94,266.25 L595.64,266.16 L596.34,266.06 L597.03,265.97 L597.73,265.88 L598.43,265.79 L599.13,265.70 L599.82,265.61 L600.52,265.53 L601.22,265.44 L601.92,265.36 L602.62,265.27 L603.32,265.19 L604.01,265.11 L604.71,265.03 L605.41,264.95 L606.11,264.87 L606.81,264.80 L607.51,264.72 L608.21,264.65 L608.92,264.57 L609.62,264.50 L610.32,264.43 L611.02,264.36 L611.72,264.29 L612.42,264.22 L613.12,264.15 L613.82,264.08 L614.53,264.02 L615.23,263.95 L615.93,263.89 L616.63,263.82 L617.34,263.76 L618.04,263.70 L618.74,263.64 L619.44,263.58 L620.15,263.52 L620.85,263.46 L621.55,263.40 L622.26,263.34 L622.96,263.28 L623.66,263.23 L624.37,263.17 L625.07,263.12 L625.77,263.06 L626.48,263.01 L627.18,262.96 L627.88,262.90 L628.59,262.85 L629.29,262.80 L630.00,262.75 L630.70,262.70 L631.40,262.65 L632.11,262.60 L632.81,262.55 L633.52,262.50 L634.22,262.45 L634.92,262.40 L635.63,262.36 L636.33,262.31 L637.04,262.26 L637.74,262.22 L638.45,262.17 L639.15,262.13 L639.85,262.08 L640.56,262.04 L641.26,261.99 L641.97,261.95 L642.67,261.90 L643.37,261.86 L644.08,261.82 L644.78,261.77 L645.49,261.73 L646.19,261.69 L646.89,261.64 L647.60,261.60 L648.30,261.56 L649.00,261.52 L649.71,261.47 L650.41,261.43 L651.11,261.39 L651.82,261.35 L652.52,261.31 L653.22,261.26 L653.92,261.22 L654.63,261.18 L655.33,261.14 L656.03,261.10 L656.73,261.05 L657.44,261.01 L658.14,260.97 L658.84,260.93 L659.54,260.88 L660.24,260.84 L660.95,260.80 L661.65,260.76 L662.35,260.71 L663.05,260.67 L663.75,260.63 L664.45,260.58 L665.15,260.54 L665.85,260.50 L666.55,260.45 L667.25,260.41 L667.95,260.36 L668.65,260.32 L669.35,260.27 L670.05,260.23 L670.75,260.18 L671.44,260.13 L672.14,260.09 L672.84,260.04 L673.54,259.99 L674.24,259.94 L674.93,259.90 L675.63,259.85 L676.33,259.80 L677.02,259.75 L677.72,259.70 L678.42,259.65 L679.11,259.60 L679.81,259.54 L680.50,259.49 L681.20,259.44 L681.89,259.38 L682.59,259.33 L683.28,259.28 L683.97,259.22 L684.67,259.16 L685.36,259.11 L686.05,259.05 L686.75,258.99 L687.44,258.93" fill="none" stroke="#0A7A38" stroke-width="0.8" opacity="0.7"/>
<path d="M484.08,40.49 L484.20,41.20 L484.33,41.90 L484.45,42.61 L484.58,43.31 L484.70,44.01 L484.83,44.72 L484.96,45.42 L485.08,46.12 L485.21,46.82 L485.34,47.52 L485.46,48.22 L485.59,48.92 L485.72,49.62 L485.85,50.32 L485.98,51.01 L486.11,51.71 L486.24,52.41 L486.37,53.10 L486.50,53.80 L486.63,54.49 L486.76,55.19 L486.90,55.88 L487.03,56.57 L487.16,57.27 L487.29,57.96 L487.43,58.65 L487.56,59.34 L487.69,60.03 L487.83,60.72 L487.96,61.41 L488.10,62.10 L488.23,62.79 L488.37,63.48 L488.51,64.17 L488.64,64.85 L488.78,65.54 L488.92,66.23 L489.05,66.91 L489.19,67.60 L489.33,68.29 L489.47,68.97 L489.61,69.66 L489.75,70.34 L489.89,71.02 L490.03,71.71 L490.17,72.39 L490.31,73.07 L490.45,73.76 L490.59,74.44 L490.73,75.12 L490.88,75.80 L491.02,76.49 L491.16,77.17 L491.31,77.85 L491.45,78.53 L491.59,79.21 L491.74,79.89 L491.88,80.57 L492.03,81.25 L492.17,81.93 L492.32,82.61 L492.47,83.29 L492.61,83.97 L492.76,84.65 L492.91,85.32 L493.06,86.00 L493.20,86.68 L493.35,87.36 L493.50,88.04 L493.65,88.71 L493.80,89.39 L493.95,90.07 L494.10,90.75 L494.25,91.42 L494.40,92.10 L494.56,92.78 L494.71,93.46 L494.86,94.13 L495.01,94.81 L495.17,95.49 L495.32,96.16 L495.47,96.84 L495.63,97.51 L495.78,98.19 L495.94,98.87 L496.09,99.54 L496.25,100.22 L496.40,100.90 L496.56,101.57 L496.72,102.25 L496.87,102.93 L497.03,103.60 L497.19,104.28 L497.35,104.95 L497.51,105.63 L497.67,106.31 L497.82,106.98 L497.98,107.66 L498.14,108.34 L498.31,109.01 L498.47,109.69 L498.63,110.37 L498.79,111.04 L498.95,111.72 L499.11,112.40 L499.28,113.08 L499.44,113.75 L499.60,114.43 L499.77,115.11 L499.93,115.79 L500.10,116.47 L500.26,117.14 L500.43,117.82 L500.59,118.50 L500.76,119.18 L500.92,119.86 L501.09,120.54 L501.26,121.22 L501.43,121.90 L501.59,122.58 L501.76,123.26 L501.93,123.94 L502.10,124.62 L502.27,125.30 L502.44,125.98 L502.61,126.66 L502.78,127.34 L502.95,128.02 L503.12,128.71 L503.30,129.39 L503.47,130.07 L503.64,130.76 L503.81,131.44 L503.99,132.12 L504.16,132.81 L504.34,133.49 L504.51,134.18 L504.69,134.86 L504.86,135.55 L505.04,136.23 L505.21,136.92 L505.39,137.61 L505.57,138.29 L505.74,138.98 L505.92,139.67 L506.10,140.36 L506.28,141.04 L506.46,141.73 L506.64,142.42 L506.82,143.11 L507.00,143.80 L507.18,144.49 L507.37,145.18 L507.55,145.86 L507.74,146.55 L507.92,147.24 L508.11,147.93 L508.29,148.62 L508.48,149.31 L508.67,150.00 L508.86,150.69 L509.05,151.37 L509.25,152.06 L509.44,152.75 L509.63,153.44 L509.83,154.12 L510.02,154.81 L510.22,155.50 L510.42,156.18 L510.62,156.87 L510.82,157.56 L511.03,158.24 L511.23,158.93 L511.44,159.61 L511.64,160.30 L511.85,160.98 L512.06,161.66 L512.27,162.34 L512.48,163.03 L512.70,163.71 L512.91,164.39 L513.13,165.07 L513.35,165.75 L513.57,166.42 L513.79,167.10 L514.02,167.78 L514.24,168.45 L514.47,169.13 L514.70,169.80 L514.93,170.48 L515.16,171.15 L515.39,171.82 L515.63,172.49 L515.87,173.16 L516.11,173.83 L516.35,174.50 L516.60,175.17 L516.84,175.83 L517.09,176.50 L517.34,177.16 L517.59,177.82 L517.85,178.48 L518.11,179.14 L518.36,179.80 L518.63,180.46 L518.89,181.12 L519.16,181.77 L519.42,182.42 L519.69,183.08 L519.97,183.73 L520.24,184.38 L520.52,185.02 L520.80,185.67 L521.08,186.32 L521.37,186.96 L521.66,187.60 L521.95,188.24 L522.24,188.88 L522.54,189.52 L522.83,190.15 L523.14,190.79 L523.44,191.42 L523.75,192.05 L524.06,192.68 L524.37,193.31 L524.68,193.93 L525.00,194.56 L525.32,195.18 L525.64,195.80 L525.97,196.42 L526.30,197.03 L526.63,197.65 L526.97,198.26 L527.31,198.87 L527.65,199.48 L527.99,200.09 L528.34,200.69 L528.69,201.29 L529.05,201.89 L529.41,202.49 L529.77,203.09 L530.13,203.68 L530.50,204.27 L530.87,204.86 L531.25,205.45 L531.62,206.03 L532.00,206.61 L532.39,207.19 L532.78,207.77 L533.17,208.35 L533.56,208.92 L533.96,209.49 L534.36,210.06 L534.77,210.62 L535.18,211.18 L535.59,211.74 L536.00,212.30 L536.42,212.85 L536.85,213.41 L537.27,213.95 L537.70,214.50 L538.13,215.04 L538.57,215.58 L539.01,216.12 L539.45,216.65 L539.90,217.18 L540.35,217.71 L540.80,218.23 L541.26,218.75 L541.72,219.27 L542.18,219.78 L542.65,220.29 L543.12,220.80 L543.59,221.30 L544.07,221.80 L544.55,222.30 L545.04,222.79 L545.53,223.28 L546.02,223.76 L546.51,224.24 L547.01,224.72 L547.51,225.20 L548.02,225.66 L548.53,226.13 L549.04,226.59 L549.55,227.05 L550.07,227.50 L550.59,227.95 L551.12,228.40 L551.65,228.84 L552.18,229.28 L552.72,229.71 L553.26,230.14 L553.80,230.57 L554.35,230.99 L554.89,231.41 L555.45,231.82 L556.00,232.23 L556.56,232.64 L557.12,233.04 L557.68,233.43 L558.25,233.83 L558.82,234.22 L559.39,234.60 L559.97,234.98 L560.55,235.36 L561.13,235.73 L561.72,236.10 L562.30,236.46 L562.89,236.82 L563.49,237.18 L564.08,237.53 L564.68,237.88 L565.28,238.22 L565.88,238.56 L566.49,238.90 L567.10,239.23 L567.71,239.56 L568.32,239.88 L568.94,240.20 L569.56,240.52 L570.18,240.83 L570.80,241.13 L571.42,241.44 L572.05,241.73 L572.68,242.03 L573.31,242.32 L573.95,242.61 L574.58,242.89 L575.22,243.16 L575.86,243.44 L576.51,243.71 L577.15,243.97 L577.80,244.23 L578.45,244.49 L579.10,244.74 L579.75,244.99 L580.41,245.24 L581.06,245.48 L581.72,245.71 L582.38,245.94 L583.04,246.17 L583.71,246.40 L584.37,246.61 L585.04,246.83 L585.71,247.04 L586.38,247.25 L587.05,247.45 L587.72,247.65 L588.40,247.84 L589.08,248.03 L589.75,248.22 L590.43,248.40 L591.11,248.57 L591.80,248.75 L592.48,248.92 L593.17,249.08 L593.85,249.24 L594.54,249.40 L595.23,249.55 L595.92,249.70 L596.61,249.85 L597.30,249.99 L598.00,250.13 L598.69,250.26 L599.39,250.39 L600.09,250.52 L600.79,250.64 L601.48,250.76 L602.19,250.88 L602.89,250.99 L603.59,251.11 L604.29,251.21 L605.00,251.32 L605.70,251.42 L606.41,251.51 L607.12,251.61 L607.82,251.70 L608.53,251.79 L609.24,251.87 L609.95,251.96 L610.66,252.04 L611.38,252.11 L612.09,252.19 L612.80,252.26 L613.52,252.33 L614.23,252.39 L614.95,252.46 L615.66,252.52 L616.38,252.58 L617.10,252.63 L617.81,252.69 L618.53,252.74 L619.25,252.79 L619.97,252.84 L620.69,252.88 L621.41,252.92 L622.13,252.96 L622.85,253.00 L623.57,253.04 L624.29,253.07 L625.01,253.11 L625.73,253.14 L626.46,253.17 L627.18,253.19 L627.90,253.22 L628.62,253.24 L629.34,253.27 L630.07,253.29 L630.79,253.31 L631.51,253.32 L632.24,253.34 L632.96,253.35 L633.68,253.37 L634.40,253.38 L635.13,253.39 L635.85,253.40 L636.57,253.41 L637.29,253.42 L638.02,253.42 L638.74,253.43 L639.46,253.43 L640.18,253.44 L640.90,253.44 L641.63,253.44 L642.35,253.44 L643.07,253.44 L643.79,253.44 L644.51,253.44 L645.23,253.44 L645.95,253.44 L646.66,253.44 L647.38,253.43 L648.10,253.43 L648.82,253.43 L649.53,253.42 L650.25,253.42 L650.97,253.41 L651.68,253.41 L652.40,253.41 L653.11,253.40 L653.82,253.40 L654.53,253.39 L655.25,253.39 L655.96,253.38 L656.67,253.38 L657.38,253.37 L658.08,253.37 L658.79,253.37 L659.50,253.36 L660.21,253.36 L660.91,253.36 L661.61,253.35 L662.32,253.35 L663.02,253.35 L663.72,253.35 L664.42,253.35 L665.12,253.35 L665.82,253.36 L666.51,253.36 L667.21,253.36 L667.90,253.37 L668.60,253.37 L669.29,253.38 L669.98,253.39 L670.67,253.40 L671.36,253.41 L672.05,253.42 L672.73,253.43 L673.42,253.44 L674.10,253.46 L674.78,253.47 L675.46,253.49 L676.14,253.51 L676.82,253.53 L677.49,253.56 L678.17,253.58 L678.84,253.61 L679.51,253.63 L680.18,253.66 L680.85,253.69 L681.52,253.73 L682.18,253.76 L682.84,253.80 L683.51,253.84 L684.17,253.88 L684.82,253.92 L685.48,253.96 L686.13,254.01 L686.79,254.06 L687.44,254.11" fill="none" stroke="#F07832" stroke-width="3.3" stroke-opacity="0.68"/>
<path d="M484.08,40.49 L484.20,41.20 L484.33,41.90 L484.45,42.61 L484.58,43.31 L484.70,44.01 L484.83,44.72 L484.96,45.42 L485.08,46.12 L485.21,46.82 L485.34,47.52 L485.46,48.22 L485.59,48.92 L485.72,49.62 L485.85,50.32 L485.98,51.01 L486.11,51.71 L486.24,52.41 L486.37,53.10 L486.50,53.80 L486.63,54.49 L486.76,55.19 L486.90,55.88 L487.03,56.57 L487.16,57.27 L487.29,57.96 L487.43,58.65 L487.56,59.34 L487.69,60.03 L487.83,60.72 L487.96,61.41 L488.10,62.10 L488.23,62.79 L488.37,63.48 L488.51,64.17 L488.64,64.85 L488.78,65.54 L488.92,66.23 L489.05,66.91 L489.19,67.60 L489.33,68.29 L489.47,68.97 L489.61,69.66 L489.75,70.34 L489.89,71.02 L490.03,71.71 L490.17,72.39 L490.31,73.07 L490.45,73.76 L490.59,74.44 L490.73,75.12 L490.88,75.80 L491.02,76.49 L491.16,77.17 L491.31,77.85 L491.45,78.53 L491.59,79.21 L491.74,79.89 L491.88,80.57 L492.03,81.25 L492.17,81.93 L492.32,82.61 L492.47,83.29 L492.61,83.97 L492.76,84.65 L492.91,85.32 L493.06,86.00 L493.20,86.68 L493.35,87.36 L493.50,88.04 L493.65,88.71 L493.80,89.39 L493.95,90.07 L494.10,90.75 L494.25,91.42 L494.40,92.10 L494.56,92.78 L494.71,93.46 L494.86,94.13 L495.01,94.81 L495.17,95.49 L495.32,96.16 L495.47,96.84 L495.63,97.51 L495.78,98.19 L495.94,98.87 L496.09,99.54 L496.25,100.22 L496.40,100.90 L496.56,101.57 L496.72,102.25 L496.87,102.93 L497.03,103.60 L497.19,104.28 L497.35,104.95 L497.51,105.63 L497.67,106.31 L497.82,106.98 L497.98,107.66 L498.14,108.34 L498.31,109.01 L498.47,109.69 L498.63,110.37 L498.79,111.04 L498.95,111.72 L499.11,112.40 L499.28,113.08 L499.44,113.75 L499.60,114.43 L499.77,115.11 L499.93,115.79 L500.10,116.47 L500.26,117.14 L500.43,117.82 L500.59,118.50 L500.76,119.18 L500.92,119.86 L501.09,120.54 L501.26,121.22 L501.43,121.90 L501.59,122.58 L501.76,123.26 L501.93,123.94 L502.10,124.62 L502.27,125.30 L502.44,125.98 L502.61,126.66 L502.78,127.34 L502.95,128.02 L503.12,128.71 L503.30,129.39 L503.47,130.07 L503.64,130.76 L503.81,131.44 L503.99,132.12 L504.16,132.81 L504.34,133.49 L504.51,134.18 L504.69,134.86 L504.86,135.55 L505.04,136.23 L505.21,136.92 L505.39,137.61 L505.57,138.29 L505.74,138.98 L505.92,139.67 L506.10,140.36 L506.28,141.04 L506.46,141.73 L506.64,142.42 L506.82,143.11 L507.00,143.80 L507.18,144.49 L507.37,145.18 L507.55,145.86 L507.74,146.55 L507.92,147.24 L508.11,147.93 L508.29,148.62 L508.48,149.31 L508.67,150.00 L508.86,150.69 L509.05,151.37 L509.25,152.06 L509.44,152.75 L509.63,153.44 L509.83,154.12 L510.02,154.81 L510.22,155.50 L510.42,156.18 L510.62,156.87 L510.82,157.56 L511.03,158.24 L511.23,158.93 L511.44,159.61 L511.64,160.30 L511.85,160.98 L512.06,161.66 L512.27,162.34 L512.48,163.03 L512.70,163.71 L512.91,164.39 L513.13,165.07 L513.35,165.75 L513.57,166.42 L513.79,167.10 L514.02,167.78 L514.24,168.45 L514.47,169.13 L514.70,169.80 L514.93,170.48 L515.16,171.15 L515.39,171.82 L515.63,172.49 L515.87,173.16 L516.11,173.83 L516.35,174.50 L516.60,175.17 L516.84,175.83 L517.09,176.50 L517.34,177.16 L517.59,177.82 L517.85,178.48 L518.11,179.14 L518.36,179.80 L518.63,180.46 L518.89,181.12 L519.16,181.77 L519.42,182.42 L519.69,183.08 L519.97,183.73 L520.24,184.38 L520.52,185.02 L520.80,185.67 L521.08,186.32 L521.37,186.96 L521.66,187.60 L521.95,188.24 L522.24,188.88 L522.54,189.52 L522.83,190.15 L523.14,190.79 L523.44,191.42 L523.75,192.05 L524.06,192.68 L524.37,193.31 L524.68,193.93 L525.00,194.56 L525.32,195.18 L525.64,195.80 L525.97,196.42 L526.30,197.03 L526.63,197.65 L526.97,198.26 L527.31,198.87 L527.65,199.48 L527.99,200.09 L528.34,200.69 L528.69,201.29 L529.05,201.89 L529.41,202.49 L529.77,203.09 L530.13,203.68 L530.50,204.27 L530.87,204.86 L531.25,205.45 L531.62,206.03 L532.00,206.61 L532.39,207.19 L532.78,207.77 L533.17,208.35 L533.56,208.92 L533.96,209.49 L534.36,210.06 L534.77,210.62 L535.18,211.18 L535.59,211.74 L536.00,212.30 L536.42,212.85 L536.85,213.41 L537.27,213.95 L537.70,214.50 L538.13,215.04 L538.57,215.58 L539.01,216.12 L539.45,216.65 L539.90,217.18 L540.35,217.71 L540.80,218.23 L541.26,218.75 L541.72,219.27 L542.18,219.78 L542.65,220.29 L543.12,220.80 L543.59,221.30 L544.07,221.80 L544.55,222.30 L545.04,222.79 L545.53,223.28 L546.02,223.76 L546.51,224.24 L547.01,224.72 L547.51,225.20 L548.02,225.66 L548.53,226.13 L549.04,226.59 L549.55,227.05 L550.07,227.50 L550.59,227.95 L551.12,228.40 L551.65,228.84 L552.18,229.28 L552.72,229.71 L553.26,230.14 L553.80,230.57 L554.35,230.99 L554.89,231.41 L555.45,231.82 L556.00,232.23 L556.56,232.64 L557.12,233.04 L557.68,233.43 L558.25,233.83 L558.82,234.22 L559.39,234.60 L559.97,234.98 L560.55,235.36 L561.13,235.73 L561.72,236.10 L562.30,236.46 L562.89,236.82 L563.49,237.18 L564.08,237.53 L564.68,237.88 L565.28,238.22 L565.88,238.56 L566.49,238.90 L567.10,239.23 L567.71,239.56 L568.32,239.88 L568.94,240.20 L569.56,240.52 L570.18,240.83 L570.80,241.13 L571.42,241.44 L572.05,241.73 L572.68,242.03 L573.31,242.32 L573.95,242.61 L574.58,242.89 L575.22,243.16 L575.86,243.44 L576.51,243.71 L577.15,243.97 L577.80,244.23 L578.45,244.49 L579.10,244.74 L579.75,244.99 L580.41,245.24 L581.06,245.48 L581.72,245.71 L582.38,245.94 L583.04,246.17 L583.71,246.40 L584.37,246.61 L585.04,246.83 L585.71,247.04 L586.38,247.25 L587.05,247.45 L587.72,247.65 L588.40,247.84 L589.08,248.03 L589.75,248.22 L590.43,248.40 L591.11,248.57 L591.80,248.75 L592.48,248.92 L593.17,249.08 L593.85,249.24 L594.54,249.40 L595.23,249.55 L595.92,249.70 L596.61,249.85 L597.30,249.99 L598.00,250.13 L598.69,250.26 L599.39,250.39 L600.09,250.52 L600.79,250.64 L601.48,250.76 L602.19,250.88 L602.89,250.99 L603.59,251.11 L604.29,251.21 L605.00,251.32 L605.70,251.42 L606.41,251.51 L607.12,251.61 L607.82,251.70 L608.53,251.79 L609.24,251.87 L609.95,251.96 L610.66,252.04 L611.38,252.11 L612.09,252.19 L612.80,252.26 L613.52,252.33 L614.23,252.39 L614.95,252.46 L615.66,252.52 L616.38,252.58 L617.10,252.63 L617.81,252.69 L618.53,252.74 L619.25,252.79 L619.97,252.84 L620.69,252.88 L621.41,252.92 L622.13,252.96 L622.85,253.00 L623.57,253.04 L624.29,253.07 L625.01,253.11 L625.73,253.14 L626.46,253.17 L627.18,253.19 L627.90,253.22 L628.62,253.24 L629.34,253.27 L630.07,253.29 L630.79,253.31 L631.51,253.32 L632.24,253.34 L632.96,253.35 L633.68,253.37 L634.40,253.38 L635.13,253.39 L635.85,253.40 L636.57,253.41 L637.29,253.42 L638.02,253.42 L638.74,253.43 L639.46,253.43 L640.18,253.44 L640.90,253.44 L641.63,253.44 L642.35,253.44 L643.07,253.44 L643.79,253.44 L644.51,253.44 L645.23,253.44 L645.95,253.44 L646.66,253.44 L647.38,253.43 L648.10,253.43 L648.82,253.43 L649.53,253.42 L650.25,253.42 L650.97,253.41 L651.68,253.41 L652.40,253.41 L653.11,253.40 L653.82,253.40 L654.53,253.39 L655.25,253.39 L655.96,253.38 L656.67,253.38 L657.38,253.37 L658.08,253.37 L658.79,253.37 L659.50,253.36 L660.21,253.36 L660.91,253.36 L661.61,253.35 L662.32,253.35 L663.02,253.35 L663.72,253.35 L664.42,253.35 L665.12,253.35 L665.82,253.36 L666.51,253.36 L667.21,253.36 L667.90,253.37 L668.60,253.37 L669.29,253.38 L669.98,253.39 L670.67,253.40 L671.36,253.41 L672.05,253.42 L672.73,253.43 L673.42,253.44 L674.10,253.46 L674.78,253.47 L675.46,253.49 L676.14,253.51 L676.82,253.53 L677.49,253.56 L678.17,253.58 L678.84,253.61 L679.51,253.63 L680.18,253.66 L680.85,253.69 L681.52,253.73 L682.18,253.76 L682.84,253.80 L683.51,253.84 L684.17,253.88 L684.82,253.92 L685.48,253.96 L686.13,254.01 L686.79,254.06 L687.44,254.11" fill="none" stroke="#D85A10" stroke-width="0.9" stroke-dasharray="2,1.6" opacity="0.55"/>
</g>
<g>
<ellipse cx="605" cy="122" rx="80" ry="68" fill="url(#glow)"/>
<circle cx="581.4" cy="137" r="28.5" fill="url(#tealfill)" fill-opacity="0.9"/>
<circle cx="625.3" cy="111.4" r="28.6" fill="url(#pinkfill)" fill-opacity="0.85"/>
<path d="M561.4,131 Q576.4,115 595.4,123" fill="none" stroke="#FFFFFF" stroke-width="3" stroke-opacity="0.55" stroke-linecap="round"/>
<path d="M565.4,151 Q583.4,161 601.4,145" fill="none" stroke="#FFFFFF" stroke-width="3" stroke-opacity="0.5" stroke-linecap="round"/>
<path d="M587.4,135 Q599.4,139 600.4,129" fill="none" stroke="#FFFFFF" stroke-width="2.5" stroke-opacity="0.45" stroke-linecap="round"/>
<path d="M605.3,105.4 Q620.3,89.4 639.3,97.4" fill="none" stroke="#FFFFFF" stroke-width="3" stroke-opacity="0.55" stroke-linecap="round"/>
<path d="M609.3,125.4 Q627.3,135.4 645.3,119.4" fill="none" stroke="#FFFFFF" stroke-width="3" stroke-opacity="0.5" stroke-linecap="round"/>
<path d="M631.3,109.4 Q643.3,113.4 644.3,103.4" fill="none" stroke="#FFFFFF" stroke-width="2.5" stroke-opacity="0.45" stroke-linecap="round"/>
<circle cx="581.4" cy="137" r="28.5" fill="none" stroke="#9ECFC2" stroke-width="1.8" stroke-opacity="0.9"/>
<circle cx="625.3" cy="111.4" r="28.6" fill="none" stroke="#EA9FB2" stroke-width="1.8" stroke-opacity="0.9"/>
<circle cx="587.6" cy="131.2" r="11.2" fill="url(#cq)"/>
<circle cx="619.8" cy="119.5" r="11" fill="url(#cbq)"/>
<circle cx="637.1" cy="96.6" r="8.2" fill="#EE7A72"/>
<circle cx="571.5" cy="141.8" r="7.8" fill="#4F9AAA"/>
<text x="588" y="135.5" class="sbi" font-size="11" fill="#FFF4C8" text-anchor="middle">c</text>
<text x="620.6" y="123.3" class="sbi" font-size="11" fill="#FFF4D0" text-anchor="middle">c</text>
<rect x="617.8" y="112.5" width="5" height="0.9" fill="#FFF4D0"/>
<text x="637.4" y="99.8" class="sbi" font-size="9.5" fill="#FFECEC" text-anchor="middle">s</text>
<text x="572" y="145" class="sbi" font-size="10" fill="#E0F4F4" text-anchor="middle">u</text>
<rect x="569.6" y="135.8" width="5" height="0.8" fill="#E0F4F4"/>
<path d="M589,165.5 Q594,169 601,168.6" fill="none" stroke="#8CC0C8" stroke-width="0.8"/>
<text x="602.8" y="172" class="sbi" font-size="12" fill="#4A8EBE">D</text>
<text x="612.2" y="166.3" class="sbi" font-size="8.5" fill="#4A8EBE">0</text>
<text x="642.2" y="143.6" class="sbi" font-size="12" fill="#D98C9E">D</text>
<text x="651.4" y="148.6" class="sbi" font-size="8.5" fill="#D98C9E">s</text>
<text x="651.6" y="138.5" class="sb" font-size="8" fill="#D98C9E">*</text>
<rect x="655.2" y="135.2" width="4.2" height="0.9" fill="#D98C9E"/>
<text x="523.5" y="96.3" class="sb" font-size="13.5" fill="#B0B0B0" textLength="57" lengthAdjust="spacingAndGlyphs"><tspan class="sbi">Z</tspan><tspan class="sbi" font-size="9.5" dy="2">cs</tspan><tspan dy="-2">(3985)</tspan></text>
</g>
<rect x="420.5" y="40.5" width="267.0" height="267.5" fill="none" stroke="#111" stroke-width="1.5"/>
<line x1="420.5" y1="254.50" x2="426.5" y2="254.50" stroke="#111" stroke-width="1.4"/>
<line x1="420.5" y1="201.00" x2="426.5" y2="201.00" stroke="#111" stroke-width="1.4"/>
<line x1="420.5" y1="147.50" x2="426.5" y2="147.50" stroke="#111" stroke-width="1.4"/>
<line x1="420.5" y1="94.00" x2="426.5" y2="94.00" stroke="#111" stroke-width="1.4"/>
<text x="412.4" y="312.70" class="tk" text-anchor="end">0.6</text>
<text x="412.4" y="259.20" class="tk" text-anchor="end">1.0</text>
<text x="412.4" y="205.70" class="tk" text-anchor="end">1.4</text>
<text x="412.4" y="152.20" class="tk" text-anchor="end">1.8</text>
<text x="412.4" y="98.70" class="tk" text-anchor="end">2.2</text>
<text x="412.4" y="45.20" class="tk" text-anchor="end">2.6</text>
<line x1="461.06" y1="308.0" x2="461.06" y2="302.0" stroke="#111" stroke-width="1.4"/>
<text x="461.06" y="326.4" class="tk" text-anchor="middle">50</text>
<line x1="506.33" y1="308.0" x2="506.33" y2="302.0" stroke="#111" stroke-width="1.4"/>
<text x="506.33" y="326.4" class="tk" text-anchor="middle">100</text>
<line x1="551.60" y1="308.0" x2="551.60" y2="302.0" stroke="#111" stroke-width="1.4"/>
<text x="551.60" y="326.4" class="tk" text-anchor="middle">150</text>
<line x1="596.86" y1="308.0" x2="596.86" y2="302.0" stroke="#111" stroke-width="1.4"/>
<text x="596.86" y="326.4" class="tk" text-anchor="middle">200</text>
<line x1="642.12" y1="308.0" x2="642.12" y2="302.0" stroke="#111" stroke-width="1.4"/>
<text x="642.12" y="326.4" class="tk" text-anchor="middle">250</text>
<text x="687.39" y="326.4" class="tk" text-anchor="middle">300</text>
<text x="528.8" y="352.6" class="tx"><tspan font-style="italic">k</tspan> (MeV)</text>
<g transform="translate(378.8,174.3) rotate(-90)"><text x="0" y="0" font-size="14.2" text-anchor="middle" textLength="25.6" lengthAdjust="spacingAndGlyphs">C(<tspan font-style="italic">k</tspan>)</text></g>
</svg>
</body></html>
